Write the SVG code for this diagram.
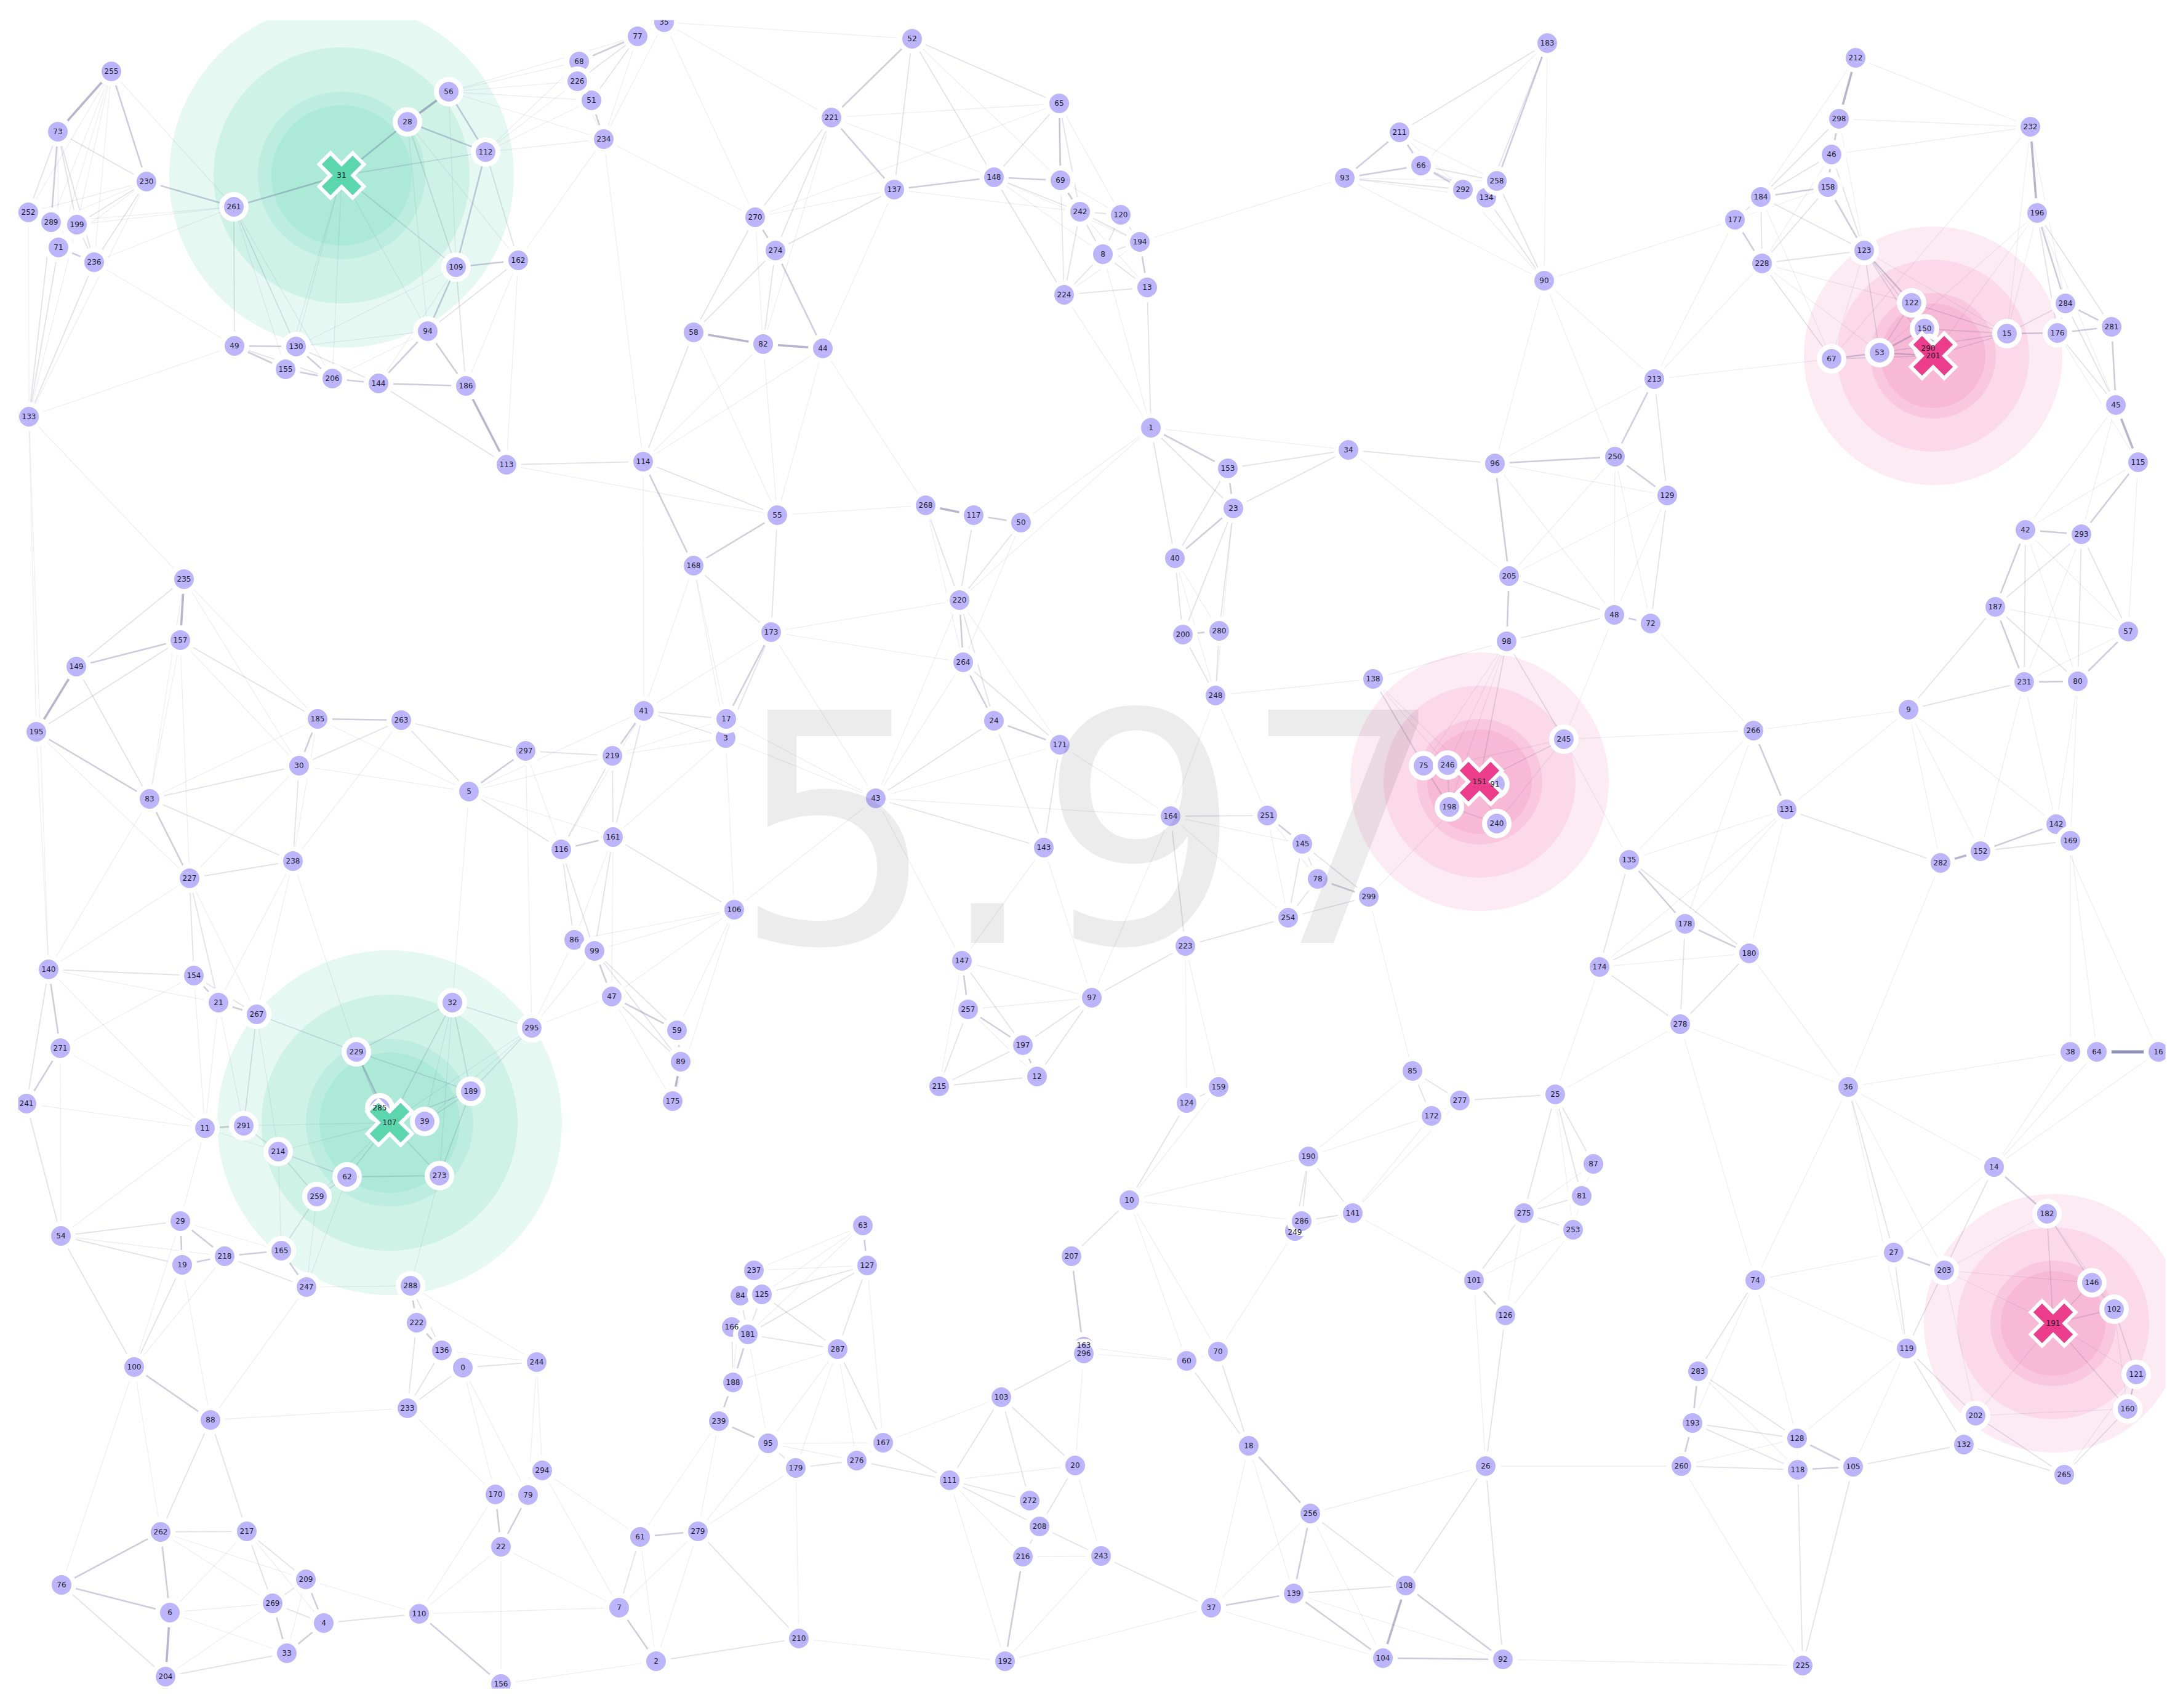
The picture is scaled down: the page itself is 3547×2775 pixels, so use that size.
<svg xmlns="http://www.w3.org/2000/svg" width="3547" height="2775" viewBox="0 0 3547 2775">
<defs>
<clipPath id="plot"><rect x="29.5" y="32.6" width="3489" height="2711"/></clipPath>
<style>
.e1{stroke:#4a4884;stroke-opacity:.09;stroke-width:1.3}
.e2{stroke:#4a4884;stroke-opacity:.16;stroke-width:1.8}
.e3{stroke:#4a4884;stroke-opacity:.27;stroke-width:2.6}
.e4{stroke:#4a4884;stroke-opacity:.4;stroke-width:3.6}
.e5{stroke:#4a4884;stroke-opacity:.62;stroke-width:4.8}
.nd circle{fill:#bdb5fb;stroke:#fff;stroke-width:8}
text{font-family:"DejaVu Sans","Liberation Sans",sans-serif}
.nd text,.cx text{font-size:12px;text-anchor:middle;fill:#1c1c28}
.xo{fill:none;stroke:#fff;stroke-width:32;stroke-linecap:square}
.gx .xi{fill:none;stroke:#5cd6ad;stroke-width:20;stroke-linecap:square}
.px .xi{fill:none;stroke:#ec3d8c;stroke-width:20;stroke-linecap:square}
.hg{fill:#5cd6ad;fill-opacity:.16}
.hp{fill:#ec3d8c;fill-opacity:.1}
.big{font-size:520px;text-anchor:middle;fill:#000;fill-opacity:.075}
</style>
<path id="xs" d="M-18-18L18 18M-18 18L18-18"/>
</defs>
<rect width="3547" height="2775" fill="#fff"/>
<g clip-path="url(#plot)">
<g id="halos">
<circle class="hg" cx="555" cy="285" r="280"/><circle class="hg" cx="555" cy="285" r="208"/><circle class="hg" cx="555" cy="285" r="136"/><circle class="hg" cx="555" cy="285" r="114"/>
<circle class="hg" cx="633" cy="1824" r="280"/><circle class="hg" cx="633" cy="1824" r="208"/><circle class="hg" cx="633" cy="1824" r="136"/><circle class="hg" cx="633" cy="1824" r="114"/>
<circle class="hp" cx="3141" cy="578" r="210"/><circle class="hp" cx="3141" cy="578" r="156"/><circle class="hp" cx="3141" cy="578" r="102"/><circle class="hp" cx="3141" cy="578" r="85"/>
<circle class="hp" cx="2404" cy="1270" r="210"/><circle class="hp" cx="2404" cy="1270" r="156"/><circle class="hp" cx="2404" cy="1270" r="102"/><circle class="hp" cx="2404" cy="1270" r="85"/>
<circle class="hp" cx="3336" cy="2150" r="210"/><circle class="hp" cx="3336" cy="2150" r="156"/><circle class="hp" cx="3336" cy="2150" r="102"/><circle class="hp" cx="3336" cy="2150" r="85"/>
</g>
<g id="edges">
<line class="e4" x1="181" y1="116" x2="94" y2="214"/>
<line class="e3" x1="181" y1="116" x2="238" y2="295"/>
<line class="e1" x1="181" y1="116" x2="46" y2="345"/>
<line class="e1" x1="181" y1="116" x2="83" y2="361"/>
<line class="e1" x1="181" y1="116" x2="125" y2="365"/>
<line class="e1" x1="181" y1="116" x2="153" y2="426"/>
<line class="e1" x1="181" y1="116" x2="95" y2="402"/>
<line class="e1" x1="181" y1="116" x2="380" y2="336"/>
<line class="e2" x1="94" y1="214" x2="238" y2="295"/>
<line class="e2" x1="94" y1="214" x2="46" y2="345"/>
<line class="e3" x1="94" y1="214" x2="83" y2="361"/>
<line class="e2" x1="94" y1="214" x2="125" y2="365"/>
<line class="e2" x1="94" y1="214" x2="153" y2="426"/>
<line class="e1" x1="94" y1="214" x2="95" y2="402"/>
<line class="e3" x1="238" y1="295" x2="380" y2="336"/>
<line class="e1" x1="238" y1="295" x2="83" y2="361"/>
<line class="e2" x1="238" y1="295" x2="125" y2="365"/>
<line class="e1" x1="238" y1="295" x2="46" y2="345"/>
<line class="e2" x1="238" y1="295" x2="153" y2="426"/>
<line class="e1" x1="238" y1="295" x2="95" y2="402"/>
<line class="e1" x1="238" y1="295" x2="47" y2="677"/>
<line class="e1" x1="153" y1="426" x2="381" y2="562"/>
<line class="e3" x1="380" y1="336" x2="555" y2="285"/>
<line class="e2" x1="380" y1="336" x2="381" y2="562"/>
<line class="e2" x1="380" y1="336" x2="481" y2="563"/>
<line class="e1" x1="380" y1="336" x2="540" y2="615"/>
<line class="e1" x1="380" y1="336" x2="125" y2="365"/>
<line class="e1" x1="380" y1="336" x2="83" y2="361"/>
<line class="e1" x1="380" y1="336" x2="153" y2="426"/>
<line class="e1" x1="380" y1="336" x2="464" y2="600"/>
<line class="e3" x1="555" y1="285" x2="662" y2="198"/>
<line class="e2" x1="555" y1="285" x2="789" y2="247"/>
<line class="e2" x1="555" y1="285" x2="741" y2="434"/>
<line class="e1" x1="555" y1="285" x2="481" y2="563"/>
<line class="e1" x1="555" y1="285" x2="540" y2="615"/>
<line class="e1" x1="555" y1="285" x2="695" y2="538"/>
<line class="e1" x1="555" y1="285" x2="464" y2="600"/>
<line class="e4" x1="662" y1="198" x2="729" y2="149"/>
<line class="e3" x1="662" y1="198" x2="789" y2="247"/>
<line class="e2" x1="662" y1="198" x2="741" y2="434"/>
<line class="e1" x1="662" y1="198" x2="695" y2="538"/>
<line class="e1" x1="662" y1="198" x2="842" y2="423"/>
<line class="e3" x1="729" y1="149" x2="789" y2="247"/>
<line class="e1" x1="729" y1="149" x2="741" y2="434"/>
<line class="e1" x1="729" y1="149" x2="941" y2="100"/>
<line class="e1" x1="729" y1="149" x2="938" y2="132"/>
<line class="e1" x1="729" y1="149" x2="961" y2="163"/>
<line class="e1" x1="729" y1="149" x2="981" y2="226"/>
<line class="e1" x1="729" y1="149" x2="1036" y2="59"/>
<line class="e2" x1="789" y1="247" x2="842" y2="423"/>
<line class="e3" x1="789" y1="247" x2="741" y2="434"/>
<line class="e1" x1="789" y1="247" x2="981" y2="226"/>
<line class="e1" x1="789" y1="247" x2="961" y2="163"/>
<line class="e1" x1="789" y1="247" x2="938" y2="132"/>
<line class="e1" x1="789" y1="247" x2="941" y2="100"/>
<line class="e3" x1="741" y1="434" x2="842" y2="423"/>
<line class="e3" x1="741" y1="434" x2="695" y2="538"/>
<line class="e2" x1="741" y1="434" x2="757" y2="627"/>
<line class="e1" x1="741" y1="434" x2="615" y2="623"/>
<line class="e1" x1="741" y1="434" x2="481" y2="563"/>
<line class="e2" x1="842" y1="423" x2="695" y2="538"/>
<line class="e1" x1="842" y1="423" x2="823" y2="755"/>
<line class="e1" x1="842" y1="423" x2="757" y2="627"/>
<line class="e1" x1="842" y1="423" x2="981" y2="226"/>
<line class="e3" x1="695" y1="538" x2="615" y2="623"/>
<line class="e3" x1="695" y1="538" x2="757" y2="627"/>
<line class="e1" x1="695" y1="538" x2="540" y2="615"/>
<line class="e1" x1="695" y1="538" x2="481" y2="563"/>
<line class="e3" x1="381" y1="562" x2="481" y2="563"/>
<line class="e3" x1="381" y1="562" x2="464" y2="600"/>
<line class="e2" x1="381" y1="562" x2="540" y2="615"/>
<line class="e1" x1="381" y1="562" x2="47" y2="677"/>
<line class="e3" x1="481" y1="563" x2="540" y2="615"/>
<line class="e2" x1="481" y1="563" x2="615" y2="623"/>
<line class="e2" x1="481" y1="563" x2="464" y2="600"/>
<line class="e3" x1="464" y1="600" x2="540" y2="615"/>
<line class="e3" x1="540" y1="615" x2="615" y2="623"/>
<line class="e3" x1="615" y1="623" x2="757" y2="627"/>
<line class="e2" x1="615" y1="623" x2="823" y2="755"/>
<line class="e4" x1="757" y1="627" x2="823" y2="755"/>
<line class="e2" x1="823" y1="755" x2="1045" y2="750"/>
<line class="e1" x1="823" y1="755" x2="1263" y2="837"/>
<line class="e1" x1="47" y1="677" x2="46" y2="345"/>
<line class="e2" x1="47" y1="677" x2="83" y2="361"/>
<line class="e1" x1="47" y1="677" x2="125" y2="365"/>
<line class="e2" x1="47" y1="677" x2="95" y2="402"/>
<line class="e2" x1="47" y1="677" x2="153" y2="426"/>
<line class="e1" x1="47" y1="677" x2="299" y2="941"/>
<line class="e1" x1="47" y1="677" x2="79" y2="1575"/>
<line class="e1" x1="47" y1="677" x2="59" y2="1189"/>
<line class="e3" x1="95" y1="402" x2="153" y2="426"/>
<line class="e2" x1="125" y1="365" x2="153" y2="426"/>
<line class="e2" x1="83" y1="361" x2="125" y2="365"/>
<line class="e1" x1="83" y1="361" x2="95" y2="402"/>
<line class="e1" x1="46" y1="345" x2="83" y2="361"/>
<line class="e1" x1="95" y1="402" x2="125" y2="365"/>
<line class="e1" x1="1079" y1="36" x2="1036" y2="59"/>
<line class="e1" x1="1079" y1="36" x2="981" y2="226"/>
<line class="e1" x1="1079" y1="36" x2="1482" y2="63"/>
<line class="e1" x1="1079" y1="36" x2="1351" y2="191"/>
<line class="e1" x1="1079" y1="36" x2="1227" y2="353"/>
<line class="e3" x1="1036" y1="59" x2="941" y2="100"/>
<line class="e2" x1="1036" y1="59" x2="938" y2="132"/>
<line class="e2" x1="1036" y1="59" x2="961" y2="163"/>
<line class="e1" x1="1036" y1="59" x2="981" y2="226"/>
<line class="e2" x1="941" y1="100" x2="938" y2="132"/>
<line class="e1" x1="941" y1="100" x2="961" y2="163"/>
<line class="e2" x1="938" y1="132" x2="961" y2="163"/>
<line class="e1" x1="938" y1="132" x2="981" y2="226"/>
<line class="e3" x1="961" y1="163" x2="981" y2="226"/>
<line class="e1" x1="981" y1="226" x2="1227" y2="353"/>
<line class="e1" x1="981" y1="226" x2="1045" y2="750"/>
<line class="e3" x1="1482" y1="63" x2="1351" y2="191"/>
<line class="e2" x1="1482" y1="63" x2="1453" y2="308"/>
<line class="e2" x1="1482" y1="63" x2="1615" y2="288"/>
<line class="e2" x1="1482" y1="63" x2="1721" y2="168"/>
<line class="e1" x1="1482" y1="63" x2="1723" y2="293"/>
<line class="e3" x1="1351" y1="191" x2="1453" y2="308"/>
<line class="e2" x1="1351" y1="191" x2="1227" y2="353"/>
<line class="e2" x1="1351" y1="191" x2="1260" y2="407"/>
<line class="e1" x1="1351" y1="191" x2="1615" y2="288"/>
<line class="e1" x1="1351" y1="191" x2="1240" y2="559"/>
<line class="e1" x1="1351" y1="191" x2="1721" y2="168"/>
<line class="e2" x1="1721" y1="168" x2="1615" y2="288"/>
<line class="e3" x1="1721" y1="168" x2="1723" y2="293"/>
<line class="e2" x1="1721" y1="168" x2="1755" y2="344"/>
<line class="e1" x1="1721" y1="168" x2="1729" y2="479"/>
<line class="e1" x1="1721" y1="168" x2="1821" y2="349"/>
<line class="e1" x1="1721" y1="168" x2="1227" y2="353"/>
<line class="e3" x1="1615" y1="288" x2="1453" y2="308"/>
<line class="e3" x1="1615" y1="288" x2="1723" y2="293"/>
<line class="e2" x1="1615" y1="288" x2="1755" y2="344"/>
<line class="e2" x1="1615" y1="288" x2="1729" y2="479"/>
<line class="e1" x1="1615" y1="288" x2="1792" y2="413"/>
<line class="e1" x1="1615" y1="288" x2="1852" y2="393"/>
<line class="e1" x1="1453" y1="308" x2="1227" y2="353"/>
<line class="e2" x1="1453" y1="308" x2="1260" y2="407"/>
<line class="e1" x1="1453" y1="308" x2="1337" y2="566"/>
<line class="e1" x1="1453" y1="308" x2="1755" y2="344"/>
<line class="e3" x1="1227" y1="353" x2="1260" y2="407"/>
<line class="e2" x1="1227" y1="353" x2="1127" y2="540"/>
<line class="e1" x1="1227" y1="353" x2="1240" y2="559"/>
<line class="e2" x1="1260" y1="407" x2="1127" y2="540"/>
<line class="e2" x1="1260" y1="407" x2="1240" y2="559"/>
<line class="e3" x1="1260" y1="407" x2="1337" y2="566"/>
<line class="e4" x1="1127" y1="540" x2="1240" y2="559"/>
<line class="e4" x1="1240" y1="559" x2="1337" y2="566"/>
<line class="e2" x1="1127" y1="540" x2="1045" y2="750"/>
<line class="e1" x1="1240" y1="559" x2="1045" y2="750"/>
<line class="e1" x1="1240" y1="559" x2="1263" y2="837"/>
<line class="e1" x1="1337" y1="566" x2="1263" y2="837"/>
<line class="e1" x1="1337" y1="566" x2="1045" y2="750"/>
<line class="e1" x1="1337" y1="566" x2="1504" y2="821"/>
<line class="e1" x1="1127" y1="540" x2="1263" y2="837"/>
<line class="e2" x1="1045" y1="750" x2="1263" y2="837"/>
<line class="e3" x1="1045" y1="750" x2="1127" y2="919"/>
<line class="e1" x1="1045" y1="750" x2="1046" y2="1155"/>
<line class="e3" x1="1263" y1="837" x2="1127" y2="919"/>
<line class="e1" x1="1263" y1="837" x2="1504" y2="821"/>
<line class="e2" x1="1263" y1="837" x2="1253" y2="1027"/>
<line class="e4" x1="1504" y1="821" x2="1582" y2="837"/>
<line class="e3" x1="1582" y1="837" x2="1659" y2="849"/>
<line class="e2" x1="1504" y1="821" x2="1559" y2="975"/>
<line class="e2" x1="1582" y1="837" x2="1559" y2="975"/>
<line class="e2" x1="1659" y1="849" x2="1559" y2="975"/>
<line class="e1" x1="1659" y1="849" x2="1870" y2="695"/>
<line class="e1" x1="1659" y1="849" x2="1565" y2="1076"/>
<line class="e3" x1="1723" y1="293" x2="1755" y2="344"/>
<line class="e2" x1="1755" y1="344" x2="1821" y2="349"/>
<line class="e2" x1="1755" y1="344" x2="1792" y2="413"/>
<line class="e2" x1="1755" y1="344" x2="1852" y2="393"/>
<line class="e1" x1="1755" y1="344" x2="1864" y2="467"/>
<line class="e2" x1="1821" y1="349" x2="1852" y2="393"/>
<line class="e2" x1="1821" y1="349" x2="1792" y2="413"/>
<line class="e2" x1="1792" y1="413" x2="1852" y2="393"/>
<line class="e2" x1="1792" y1="413" x2="1864" y2="467"/>
<line class="e3" x1="1852" y1="393" x2="1864" y2="467"/>
<line class="e2" x1="1729" y1="479" x2="1864" y2="467"/>
<line class="e2" x1="1729" y1="479" x2="1792" y2="413"/>
<line class="e1" x1="1729" y1="479" x2="1852" y2="393"/>
<line class="e2" x1="1729" y1="479" x2="1755" y2="344"/>
<line class="e1" x1="1723" y1="293" x2="1792" y2="413"/>
<line class="e1" x1="1723" y1="293" x2="1821" y2="349"/>
<line class="e1" x1="1723" y1="293" x2="1729" y2="479"/>
<line class="e2" x1="1864" y1="467" x2="1870" y2="695"/>
<line class="e1" x1="1792" y1="413" x2="1870" y2="695"/>
<line class="e1" x1="1729" y1="479" x2="1870" y2="695"/>
<line class="e3" x1="2185" y1="289" x2="2274" y2="215"/>
<line class="e3" x1="2185" y1="289" x2="2309" y2="269"/>
<line class="e2" x1="2185" y1="289" x2="2377" y2="308"/>
<line class="e1" x1="2185" y1="289" x2="2415" y2="321"/>
<line class="e1" x1="2185" y1="289" x2="2432" y2="294"/>
<line class="e3" x1="2274" y1="215" x2="2309" y2="269"/>
<line class="e1" x1="2274" y1="215" x2="2377" y2="308"/>
<line class="e1" x1="2274" y1="215" x2="2432" y2="294"/>
<line class="e2" x1="2274" y1="215" x2="2514" y2="70"/>
<line class="e3" x1="2309" y1="269" x2="2377" y2="308"/>
<line class="e2" x1="2309" y1="269" x2="2432" y2="294"/>
<line class="e2" x1="2309" y1="269" x2="2415" y2="321"/>
<line class="e1" x1="2377" y1="308" x2="2432" y2="294"/>
<line class="e2" x1="2377" y1="308" x2="2415" y2="321"/>
<line class="e3" x1="2514" y1="70" x2="2432" y2="294"/>
<line class="e2" x1="2514" y1="70" x2="2415" y2="321"/>
<line class="e1" x1="2514" y1="70" x2="2309" y2="269"/>
<line class="e1" x1="2514" y1="70" x2="2509" y2="456"/>
<line class="e2" x1="2432" y1="294" x2="2509" y2="456"/>
<line class="e2" x1="2415" y1="321" x2="2509" y2="456"/>
<line class="e1" x1="2377" y1="308" x2="2509" y2="456"/>
<line class="e1" x1="2185" y1="289" x2="2509" y2="456"/>
<line class="e1" x1="2185" y1="289" x2="1852" y2="393"/>
<line class="e1" x1="2509" y1="456" x2="2688" y2="616"/>
<line class="e1" x1="2509" y1="456" x2="2429" y2="753"/>
<line class="e1" x1="2509" y1="456" x2="2624" y2="742"/>
<line class="e3" x1="1870" y1="695" x2="1995" y2="761"/>
<line class="e2" x1="1870" y1="695" x2="2004" y2="826"/>
<line class="e2" x1="1870" y1="695" x2="1909" y2="907"/>
<line class="e1" x1="1870" y1="695" x2="2191" y2="731"/>
<line class="e1" x1="1870" y1="695" x2="1559" y2="975"/>
<line class="e2" x1="1995" y1="761" x2="2191" y2="731"/>
<line class="e3" x1="1995" y1="761" x2="2004" y2="826"/>
<line class="e2" x1="1995" y1="761" x2="1909" y2="907"/>
<line class="e2" x1="2004" y1="826" x2="2191" y2="731"/>
<line class="e3" x1="2004" y1="826" x2="1909" y2="907"/>
<line class="e2" x1="2004" y1="826" x2="1922" y2="1031"/>
<line class="e2" x1="2004" y1="826" x2="1981" y2="1025"/>
<line class="e1" x1="2004" y1="826" x2="1975" y2="1130"/>
<line class="e2" x1="2191" y1="731" x2="2429" y2="753"/>
<line class="e1" x1="2191" y1="731" x2="2452" y2="936"/>
<line class="e3" x1="2429" y1="753" x2="2624" y2="742"/>
<line class="e3" x1="2429" y1="753" x2="2452" y2="936"/>
<line class="e1" x1="2429" y1="753" x2="2623" y2="999"/>
<line class="e1" x1="2429" y1="753" x2="2688" y2="616"/>
<line class="e1" x1="2429" y1="753" x2="2709" y2="805"/>
<line class="e3" x1="2624" y1="742" x2="2688" y2="616"/>
<line class="e3" x1="2624" y1="742" x2="2709" y2="805"/>
<line class="e1" x1="2624" y1="742" x2="2623" y2="999"/>
<line class="e1" x1="2624" y1="742" x2="2682" y2="1013"/>
<line class="e1" x1="2624" y1="742" x2="2452" y2="936"/>
<line class="e4" x1="3015" y1="94" x2="2988" y2="193"/>
<line class="e1" x1="3015" y1="94" x2="3299" y2="206"/>
<line class="e1" x1="3015" y1="94" x2="2861" y2="320"/>
<line class="e3" x1="2988" y1="193" x2="2976" y2="251"/>
<line class="e1" x1="2988" y1="193" x2="3299" y2="206"/>
<line class="e2" x1="2988" y1="193" x2="2861" y2="320"/>
<line class="e1" x1="2988" y1="193" x2="3029" y2="407"/>
<line class="e1" x1="2988" y1="193" x2="2970" y2="304"/>
<line class="e3" x1="2976" y1="251" x2="2970" y2="304"/>
<line class="e2" x1="2976" y1="251" x2="2861" y2="320"/>
<line class="e2" x1="2976" y1="251" x2="3029" y2="407"/>
<line class="e1" x1="2976" y1="251" x2="2863" y2="428"/>
<line class="e1" x1="2976" y1="251" x2="3299" y2="206"/>
<line class="e3" x1="2970" y1="304" x2="2861" y2="320"/>
<line class="e3" x1="2970" y1="304" x2="3029" y2="407"/>
<line class="e2" x1="2970" y1="304" x2="2863" y2="428"/>
<line class="e1" x1="2970" y1="304" x2="2819" y2="357"/>
<line class="e2" x1="2861" y1="320" x2="2819" y2="357"/>
<line class="e2" x1="2861" y1="320" x2="2863" y2="428"/>
<line class="e2" x1="2861" y1="320" x2="3029" y2="407"/>
<line class="e1" x1="2861" y1="320" x2="2976" y2="583"/>
<line class="e3" x1="2819" y1="357" x2="2863" y2="428"/>
<line class="e1" x1="2819" y1="357" x2="2688" y2="616"/>
<line class="e1" x1="2819" y1="357" x2="2509" y2="456"/>
<line class="e2" x1="2863" y1="428" x2="3029" y2="407"/>
<line class="e2" x1="2863" y1="428" x2="2976" y2="583"/>
<line class="e1" x1="2863" y1="428" x2="2688" y2="616"/>
<line class="e1" x1="2863" y1="428" x2="3054" y2="573"/>
<line class="e1" x1="2863" y1="428" x2="3106" y2="492"/>
<line class="e3" x1="3029" y1="407" x2="3106" y2="492"/>
<line class="e2" x1="3029" y1="407" x2="3054" y2="573"/>
<line class="e1" x1="3029" y1="407" x2="2976" y2="583"/>
<line class="e2" x1="3029" y1="407" x2="3127" y2="534"/>
<line class="e2" x1="3029" y1="407" x2="3141" y2="578"/>
<line class="e1" x1="3029" y1="407" x2="3261" y2="542"/>
<line class="e4" x1="3299" y1="206" x2="3310" y2="346"/>
<line class="e1" x1="3299" y1="206" x2="3261" y2="542"/>
<line class="e1" x1="3299" y1="206" x2="3356" y2="493"/>
<line class="e1" x1="3299" y1="206" x2="2976" y2="583"/>
<line class="e3" x1="3310" y1="346" x2="3356" y2="493"/>
<line class="e2" x1="3310" y1="346" x2="3343" y2="541"/>
<line class="e1" x1="3310" y1="346" x2="3261" y2="542"/>
<line class="e2" x1="3310" y1="346" x2="3431" y2="531"/>
<line class="e1" x1="3310" y1="346" x2="3438" y2="658"/>
<line class="e1" x1="3310" y1="346" x2="3141" y2="578"/>
<line class="e1" x1="3310" y1="346" x2="3054" y2="573"/>
<line class="e3" x1="3356" y1="493" x2="3431" y2="531"/>
<line class="e2" x1="3356" y1="493" x2="3261" y2="542"/>
<line class="e2" x1="3356" y1="493" x2="3343" y2="541"/>
<line class="e2" x1="3356" y1="493" x2="3438" y2="658"/>
<line class="e3" x1="3431" y1="531" x2="3343" y2="541"/>
<line class="e3" x1="3431" y1="531" x2="3438" y2="658"/>
<line class="e3" x1="3343" y1="541" x2="3261" y2="542"/>
<line class="e2" x1="3343" y1="541" x2="3438" y2="658"/>
<line class="e1" x1="3343" y1="541" x2="3474" y2="751"/>
<line class="e2" x1="3261" y1="542" x2="3141" y2="578"/>
<line class="e2" x1="3261" y1="542" x2="3127" y2="534"/>
<line class="e2" x1="3261" y1="542" x2="3106" y2="492"/>
<line class="e2" x1="3261" y1="542" x2="3054" y2="573"/>
<line class="e3" x1="3106" y1="492" x2="3127" y2="534"/>
<line class="e2" x1="3106" y1="492" x2="3054" y2="573"/>
<line class="e2" x1="3106" y1="492" x2="3141" y2="578"/>
<line class="e3" x1="3127" y1="534" x2="3054" y2="573"/>
<line class="e3" x1="3127" y1="534" x2="3141" y2="578"/>
<line class="e3" x1="3054" y1="573" x2="2976" y2="583"/>
<line class="e3" x1="3054" y1="573" x2="3141" y2="578"/>
<line class="e2" x1="2976" y1="583" x2="3141" y2="578"/>
<line class="e1" x1="2976" y1="583" x2="2688" y2="616"/>
<line class="e2" x1="2688" y1="616" x2="2709" y2="805"/>
<line class="e4" x1="3438" y1="658" x2="3474" y2="751"/>
<line class="e1" x1="3438" y1="658" x2="3291" y2="861"/>
<line class="e1" x1="3438" y1="658" x2="3382" y2="868"/>
<line class="e3" x1="3474" y1="751" x2="3382" y2="868"/>
<line class="e1" x1="3474" y1="751" x2="3291" y2="861"/>
<line class="e1" x1="3474" y1="751" x2="3458" y2="1026"/>
<line class="e3" x1="3291" y1="861" x2="3382" y2="868"/>
<line class="e3" x1="3291" y1="861" x2="3242" y2="986"/>
<line class="e2" x1="3291" y1="861" x2="3289" y2="1108"/>
<line class="e1" x1="3291" y1="861" x2="3458" y2="1026"/>
<line class="e1" x1="3291" y1="861" x2="3376" y2="1107"/>
<line class="e2" x1="3382" y1="868" x2="3242" y2="986"/>
<line class="e2" x1="3382" y1="868" x2="3376" y2="1107"/>
<line class="e2" x1="3382" y1="868" x2="3458" y2="1026"/>
<line class="e1" x1="3382" y1="868" x2="3289" y2="1108"/>
<line class="e4" x1="299" y1="941" x2="293" y2="1040"/>
<line class="e2" x1="299" y1="941" x2="124" y2="1083"/>
<line class="e1" x1="299" y1="941" x2="516" y2="1168"/>
<line class="e1" x1="299" y1="941" x2="243" y2="1298"/>
<line class="e1" x1="299" y1="941" x2="486" y2="1244"/>
<line class="e3" x1="293" y1="1040" x2="124" y2="1083"/>
<line class="e2" x1="293" y1="1040" x2="59" y2="1189"/>
<line class="e1" x1="293" y1="1040" x2="243" y2="1298"/>
<line class="e2" x1="293" y1="1040" x2="516" y2="1168"/>
<line class="e1" x1="293" y1="1040" x2="486" y2="1244"/>
<line class="e1" x1="293" y1="1040" x2="308" y2="1427"/>
<line class="e4" x1="124" y1="1083" x2="59" y2="1189"/>
<line class="e2" x1="124" y1="1083" x2="243" y2="1298"/>
<line class="e3" x1="59" y1="1189" x2="243" y2="1298"/>
<line class="e1" x1="59" y1="1189" x2="308" y2="1427"/>
<line class="e1" x1="59" y1="1189" x2="79" y2="1575"/>
<line class="e3" x1="516" y1="1168" x2="652" y2="1170"/>
<line class="e3" x1="516" y1="1168" x2="486" y2="1244"/>
<line class="e1" x1="516" y1="1168" x2="243" y2="1298"/>
<line class="e1" x1="516" y1="1168" x2="762" y2="1286"/>
<line class="e1" x1="516" y1="1168" x2="476" y2="1399"/>
<line class="e2" x1="652" y1="1170" x2="486" y2="1244"/>
<line class="e2" x1="652" y1="1170" x2="854" y2="1220"/>
<line class="e2" x1="652" y1="1170" x2="762" y2="1286"/>
<line class="e1" x1="652" y1="1170" x2="476" y2="1399"/>
<line class="e2" x1="486" y1="1244" x2="243" y2="1298"/>
<line class="e2" x1="486" y1="1244" x2="476" y2="1399"/>
<line class="e1" x1="486" y1="1244" x2="762" y2="1286"/>
<line class="e1" x1="486" y1="1244" x2="308" y2="1427"/>
<line class="e3" x1="243" y1="1298" x2="308" y2="1427"/>
<line class="e2" x1="243" y1="1298" x2="476" y2="1399"/>
<line class="e1" x1="243" y1="1298" x2="79" y2="1575"/>
<line class="e2" x1="308" y1="1427" x2="476" y2="1399"/>
<line class="e2" x1="308" y1="1427" x2="315" y2="1585"/>
<line class="e2" x1="308" y1="1427" x2="355" y2="1629"/>
<line class="e1" x1="308" y1="1427" x2="417" y2="1648"/>
<line class="e1" x1="308" y1="1427" x2="79" y2="1575"/>
<line class="e1" x1="476" y1="1399" x2="355" y2="1629"/>
<line class="e1" x1="476" y1="1399" x2="417" y2="1648"/>
<line class="e1" x1="476" y1="1399" x2="579" y2="1709"/>
<line class="e3" x1="854" y1="1220" x2="762" y2="1286"/>
<line class="e2" x1="854" y1="1220" x2="995" y2="1228"/>
<line class="e1" x1="854" y1="1220" x2="912" y2="1380"/>
<line class="e2" x1="762" y1="1286" x2="912" y2="1380"/>
<line class="e1" x1="762" y1="1286" x2="996" y2="1360"/>
<line class="e1" x1="762" y1="1286" x2="995" y2="1228"/>
<line class="e1" x1="762" y1="1286" x2="735" y2="1629"/>
<line class="e2" x1="79" y1="1575" x2="315" y2="1585"/>
<line class="e3" x1="79" y1="1575" x2="98" y2="1703"/>
<line class="e2" x1="79" y1="1575" x2="43" y2="1793"/>
<line class="e1" x1="79" y1="1575" x2="355" y2="1629"/>
<line class="e1" x1="79" y1="1575" x2="333" y2="1833"/>
<line class="e3" x1="315" y1="1585" x2="355" y2="1629"/>
<line class="e2" x1="315" y1="1585" x2="417" y2="1648"/>
<line class="e1" x1="315" y1="1585" x2="333" y2="1833"/>
<line class="e1" x1="315" y1="1585" x2="98" y2="1703"/>
<line class="e3" x1="355" y1="1629" x2="417" y2="1648"/>
<line class="e1" x1="355" y1="1629" x2="333" y2="1833"/>
<line class="e1" x1="355" y1="1629" x2="396" y2="1829"/>
<line class="e3" x1="98" y1="1703" x2="43" y2="1793"/>
<line class="e1" x1="98" y1="1703" x2="333" y2="1833"/>
<line class="e1" x1="98" y1="1703" x2="99" y2="2008"/>
<line class="e2" x1="417" y1="1648" x2="579" y2="1709"/>
<line class="e2" x1="417" y1="1648" x2="396" y2="1829"/>
<line class="e1" x1="417" y1="1648" x2="452" y2="1871"/>
<line class="e2" x1="735" y1="1629" x2="579" y2="1709"/>
<line class="e2" x1="735" y1="1629" x2="864" y2="1670"/>
<line class="e2" x1="735" y1="1629" x2="765" y2="1773"/>
<line class="e2" x1="735" y1="1629" x2="633" y2="1824"/>
<line class="e1" x1="735" y1="1629" x2="690" y2="1822"/>
<line class="e1" x1="735" y1="1629" x2="714" y2="1910"/>
<line class="e3" x1="579" y1="1709" x2="633" y2="1824"/>
<line class="e2" x1="579" y1="1709" x2="765" y2="1773"/>
<line class="e2" x1="579" y1="1709" x2="617" y2="1800"/>
<line class="e2" x1="765" y1="1773" x2="633" y2="1824"/>
<line class="e2" x1="765" y1="1773" x2="690" y2="1822"/>
<line class="e2" x1="765" y1="1773" x2="864" y2="1670"/>
<line class="e2" x1="765" y1="1773" x2="714" y2="1910"/>
<line class="e1" x1="864" y1="1670" x2="633" y2="1824"/>
<line class="e1" x1="864" y1="1670" x2="690" y2="1822"/>
<line class="e1" x1="864" y1="1670" x2="994" y2="1619"/>
<line class="e1" x1="864" y1="1670" x2="933" y2="1527"/>
<line class="e1" x1="864" y1="1670" x2="966" y2="1545"/>
<line class="e3" x1="333" y1="1833" x2="396" y2="1829"/>
<line class="e1" x1="333" y1="1833" x2="452" y2="1871"/>
<line class="e1" x1="333" y1="1833" x2="99" y2="2008"/>
<line class="e1" x1="333" y1="1833" x2="293" y2="1984"/>
<line class="e2" x1="396" y1="1829" x2="452" y2="1871"/>
<line class="e1" x1="396" y1="1829" x2="633" y2="1824"/>
<line class="e2" x1="43" y1="1793" x2="99" y2="2008"/>
<line class="e1" x1="43" y1="1793" x2="333" y2="1833"/>
<line class="e1" x1="854" y1="1220" x2="864" y2="1670"/>
<line class="e2" x1="1127" y1="919" x2="1253" y2="1027"/>
<line class="e1" x1="1127" y1="919" x2="1180" y2="1168"/>
<line class="e1" x1="1127" y1="919" x2="1179" y2="1199"/>
<line class="e1" x1="1127" y1="919" x2="1046" y2="1155"/>
<line class="e3" x1="1253" y1="1027" x2="1180" y2="1168"/>
<line class="e2" x1="1253" y1="1027" x2="1179" y2="1199"/>
<line class="e1" x1="1253" y1="1027" x2="1559" y2="975"/>
<line class="e1" x1="1253" y1="1027" x2="1046" y2="1155"/>
<line class="e1" x1="1253" y1="1027" x2="1423" y2="1297"/>
<line class="e1" x1="1253" y1="1027" x2="1565" y2="1076"/>
<line class="e3" x1="1559" y1="975" x2="1565" y2="1076"/>
<line class="e2" x1="1559" y1="975" x2="1615" y2="1171"/>
<line class="e1" x1="1559" y1="975" x2="1722" y2="1210"/>
<line class="e1" x1="1559" y1="975" x2="1423" y2="1297"/>
<line class="e1" x1="1504" y1="821" x2="1565" y2="1076"/>
<line class="e3" x1="1565" y1="1076" x2="1615" y2="1171"/>
<line class="e2" x1="1565" y1="1076" x2="1722" y2="1210"/>
<line class="e1" x1="1565" y1="1076" x2="1423" y2="1297"/>
<line class="e3" x1="1615" y1="1171" x2="1722" y2="1210"/>
<line class="e2" x1="1615" y1="1171" x2="1696" y2="1377"/>
<line class="e2" x1="1615" y1="1171" x2="1423" y2="1297"/>
<line class="e2" x1="1722" y1="1210" x2="1696" y2="1377"/>
<line class="e1" x1="1722" y1="1210" x2="1902" y2="1326"/>
<line class="e1" x1="1722" y1="1210" x2="1423" y2="1297"/>
<line class="e2" x1="1046" y1="1155" x2="1180" y2="1168"/>
<line class="e2" x1="1046" y1="1155" x2="1179" y2="1199"/>
<line class="e3" x1="1046" y1="1155" x2="995" y2="1228"/>
<line class="e2" x1="1046" y1="1155" x2="996" y2="1360"/>
<line class="e1" x1="1046" y1="1155" x2="912" y2="1380"/>
<line class="e1" x1="1046" y1="1155" x2="762" y2="1286"/>
<line class="e2" x1="995" y1="1228" x2="912" y2="1380"/>
<line class="e2" x1="995" y1="1228" x2="996" y2="1360"/>
<line class="e1" x1="995" y1="1228" x2="1179" y2="1199"/>
<line class="e1" x1="995" y1="1228" x2="1180" y2="1168"/>
<line class="e1" x1="1179" y1="1199" x2="1423" y2="1297"/>
<line class="e1" x1="1179" y1="1199" x2="1193" y2="1478"/>
<line class="e1" x1="1180" y1="1168" x2="1423" y2="1297"/>
<line class="e1" x1="1179" y1="1199" x2="996" y2="1360"/>
<line class="e3" x1="912" y1="1380" x2="996" y2="1360"/>
<line class="e2" x1="912" y1="1380" x2="933" y2="1527"/>
<line class="e2" x1="912" y1="1380" x2="966" y2="1545"/>
<line class="e2" x1="996" y1="1360" x2="1193" y2="1478"/>
<line class="e1" x1="996" y1="1360" x2="933" y2="1527"/>
<line class="e2" x1="996" y1="1360" x2="966" y2="1545"/>
<line class="e1" x1="996" y1="1360" x2="994" y2="1619"/>
<line class="e1" x1="1193" y1="1478" x2="1100" y2="1674"/>
<line class="e1" x1="1193" y1="1478" x2="1093" y2="1789"/>
<line class="e1" x1="1193" y1="1478" x2="1423" y2="1297"/>
<line class="e1" x1="1193" y1="1478" x2="933" y2="1527"/>
<line class="e1" x1="1193" y1="1478" x2="966" y2="1545"/>
<line class="e1" x1="1193" y1="1478" x2="994" y2="1619"/>
<line class="e2" x1="933" y1="1527" x2="966" y2="1545"/>
<line class="e3" x1="966" y1="1545" x2="994" y2="1619"/>
<line class="e2" x1="966" y1="1545" x2="1100" y2="1674"/>
<line class="e2" x1="966" y1="1545" x2="1106" y2="1725"/>
<line class="e3" x1="994" y1="1619" x2="1100" y2="1674"/>
<line class="e2" x1="994" y1="1619" x2="1106" y2="1725"/>
<line class="e1" x1="994" y1="1619" x2="1093" y2="1789"/>
<line class="e3" x1="1100" y1="1674" x2="1106" y2="1725"/>
<line class="e4" x1="1106" y1="1725" x2="1093" y2="1789"/>
<line class="e1" x1="1423" y1="1297" x2="1563" y2="1561"/>
<line class="e2" x1="1423" y1="1297" x2="1696" y2="1377"/>
<line class="e1" x1="1696" y1="1377" x2="1563" y2="1561"/>
<line class="e1" x1="1696" y1="1377" x2="1774" y2="1621"/>
<line class="e3" x1="1563" y1="1561" x2="1573" y2="1640"/>
<line class="e2" x1="1563" y1="1561" x2="1662" y2="1698"/>
<line class="e1" x1="1563" y1="1561" x2="1774" y2="1621"/>
<line class="e1" x1="1563" y1="1561" x2="1526" y2="1765"/>
<line class="e3" x1="1573" y1="1640" x2="1662" y2="1698"/>
<line class="e2" x1="1573" y1="1640" x2="1526" y2="1765"/>
<line class="e1" x1="1573" y1="1640" x2="1774" y2="1621"/>
<line class="e1" x1="1573" y1="1640" x2="1685" y2="1749"/>
<line class="e3" x1="1662" y1="1698" x2="1685" y2="1749"/>
<line class="e2" x1="1662" y1="1698" x2="1526" y2="1765"/>
<line class="e2" x1="1662" y1="1698" x2="1774" y2="1621"/>
<line class="e2" x1="1685" y1="1749" x2="1526" y2="1765"/>
<line class="e2" x1="1685" y1="1749" x2="1774" y2="1621"/>
<line class="e2" x1="1774" y1="1621" x2="1926" y2="1537"/>
<line class="e3" x1="1922" y1="1031" x2="1981" y2="1025"/>
<line class="e2" x1="1922" y1="1031" x2="1975" y2="1130"/>
<line class="e2" x1="1981" y1="1025" x2="1975" y2="1130"/>
<line class="e2" x1="1909" y1="907" x2="1922" y2="1031"/>
<line class="e1" x1="1909" y1="907" x2="1981" y2="1025"/>
<line class="e1" x1="1909" y1="907" x2="1975" y2="1130"/>
<line class="e1" x1="1975" y1="1130" x2="2231" y2="1103"/>
<line class="e1" x1="1975" y1="1130" x2="1902" y2="1326"/>
<line class="e1" x1="1975" y1="1130" x2="2059" y2="1325"/>
<line class="e1" x1="2231" y1="1103" x2="2448" y2="1042"/>
<line class="e2" x1="2231" y1="1103" x2="2313" y2="1244"/>
<line class="e1" x1="2231" y1="1103" x2="2352" y2="1243"/>
<line class="e1" x1="2231" y1="1103" x2="2404" y2="1270"/>
<line class="e1" x1="2231" y1="1103" x2="2355" y2="1311"/>
<line class="e3" x1="2452" y1="936" x2="2448" y2="1042"/>
<line class="e2" x1="2452" y1="936" x2="2623" y2="999"/>
<line class="e2" x1="2448" y1="1042" x2="2623" y2="999"/>
<line class="e3" x1="2623" y1="999" x2="2682" y2="1013"/>
<line class="e2" x1="2448" y1="1042" x2="2541" y2="1201"/>
<line class="e2" x1="2448" y1="1042" x2="2404" y2="1270"/>
<line class="e1" x1="2448" y1="1042" x2="2313" y2="1244"/>
<line class="e1" x1="2448" y1="1042" x2="2352" y2="1243"/>
<line class="e1" x1="2448" y1="1042" x2="2355" y2="1311"/>
<line class="e2" x1="2541" y1="1201" x2="2404" y2="1270"/>
<line class="e1" x1="2541" y1="1201" x2="2352" y2="1243"/>
<line class="e1" x1="2541" y1="1201" x2="2432" y2="1338"/>
<line class="e1" x1="2541" y1="1201" x2="2647" y2="1397"/>
<line class="e1" x1="2541" y1="1201" x2="2623" y2="999"/>
<line class="e2" x1="2313" y1="1244" x2="2352" y2="1243"/>
<line class="e2" x1="2313" y1="1244" x2="2355" y2="1311"/>
<line class="e2" x1="2352" y1="1243" x2="2355" y2="1311"/>
<line class="e2" x1="2355" y1="1311" x2="2432" y2="1338"/>
<line class="e2" x1="2352" y1="1243" x2="2404" y2="1270"/>
<line class="e2" x1="2432" y1="1338" x2="2404" y2="1270"/>
<line class="e2" x1="2355" y1="1311" x2="2404" y2="1270"/>
<line class="e1" x1="2313" y1="1244" x2="2404" y2="1270"/>
<line class="e2" x1="1902" y1="1326" x2="2059" y2="1325"/>
<line class="e2" x1="1902" y1="1326" x2="1926" y2="1537"/>
<line class="e1" x1="1902" y1="1326" x2="2116" y2="1371"/>
<line class="e1" x1="1902" y1="1326" x2="2093" y2="1491"/>
<line class="e1" x1="1902" y1="1326" x2="1774" y2="1621"/>
<line class="e1" x1="1902" y1="1326" x2="1423" y2="1297"/>
<line class="e3" x1="2059" y1="1325" x2="2116" y2="1371"/>
<line class="e1" x1="2059" y1="1325" x2="2093" y2="1491"/>
<line class="e1" x1="2059" y1="1325" x2="2141" y2="1428"/>
<line class="e2" x1="2116" y1="1371" x2="2141" y2="1428"/>
<line class="e2" x1="2116" y1="1371" x2="2093" y2="1491"/>
<line class="e2" x1="2116" y1="1371" x2="2224" y2="1457"/>
<line class="e2" x1="2141" y1="1428" x2="2093" y2="1491"/>
<line class="e3" x1="2141" y1="1428" x2="2224" y2="1457"/>
<line class="e2" x1="2093" y1="1491" x2="2224" y2="1457"/>
<line class="e2" x1="2093" y1="1491" x2="1926" y2="1537"/>
<line class="e1" x1="1926" y1="1537" x2="1928" y2="1792"/>
<line class="e1" x1="1926" y1="1537" x2="1980" y2="1766"/>
<line class="e1" x1="2224" y1="1457" x2="2295" y2="1740"/>
<line class="e1" x1="2224" y1="1457" x2="2404" y2="1270"/>
<line class="e2" x1="2647" y1="1397" x2="2599" y2="1571"/>
<line class="e3" x1="2647" y1="1397" x2="2738" y2="1501"/>
<line class="e2" x1="2647" y1="1397" x2="2842" y2="1549"/>
<line class="e1" x1="2647" y1="1397" x2="2903" y2="1315"/>
<line class="e2" x1="2599" y1="1571" x2="2738" y2="1501"/>
<line class="e2" x1="2599" y1="1571" x2="2730" y2="1664"/>
<line class="e1" x1="2599" y1="1571" x2="2527" y2="1778"/>
<line class="e1" x1="2599" y1="1571" x2="2842" y2="1549"/>
<line class="e1" x1="2599" y1="1571" x2="2903" y2="1315"/>
<line class="e2" x1="2295" y1="1740" x2="2372" y2="1788"/>
<line class="e2" x1="2295" y1="1740" x2="2326" y2="1813"/>
<line class="e1" x1="2372" y1="1788" x2="2326" y2="1813"/>
<line class="e2" x1="2372" y1="1788" x2="2527" y2="1778"/>
<line class="e2" x1="2527" y1="1778" x2="2589" y2="1891"/>
<line class="e2" x1="2527" y1="1778" x2="2570" y2="1943"/>
<line class="e2" x1="2527" y1="1778" x2="2476" y2="1971"/>
<line class="e1" x1="2527" y1="1778" x2="2556" y2="1998"/>
<line class="e2" x1="1980" y1="1766" x2="1928" y2="1792"/>
<line class="e2" x1="1928" y1="1792" x2="1835" y2="1950"/>
<line class="e1" x1="1980" y1="1766" x2="1835" y2="1950"/>
<line class="e1" x1="2295" y1="1740" x2="2126" y2="1879"/>
<line class="e1" x1="2126" y1="1879" x2="2326" y2="1813"/>
<line class="e1" x1="2198" y1="1971" x2="2326" y2="1813"/>
<line class="e1" x1="2198" y1="1971" x2="2372" y2="1788"/>
<line class="e1" x1="2682" y1="1013" x2="2849" y2="1187"/>
<line class="e1" x1="3242" y1="986" x2="3458" y2="1026"/>
<line class="e3" x1="3242" y1="986" x2="3289" y2="1108"/>
<line class="e2" x1="3242" y1="986" x2="3376" y2="1107"/>
<line class="e2" x1="3242" y1="986" x2="3101" y2="1153"/>
<line class="e3" x1="3458" y1="1026" x2="3376" y2="1107"/>
<line class="e1" x1="3458" y1="1026" x2="3289" y2="1108"/>
<line class="e3" x1="3289" y1="1108" x2="3376" y2="1107"/>
<line class="e2" x1="3289" y1="1108" x2="3101" y2="1153"/>
<line class="e1" x1="3289" y1="1108" x2="3341" y2="1339"/>
<line class="e1" x1="3289" y1="1108" x2="3218" y2="1383"/>
<line class="e1" x1="3376" y1="1107" x2="3341" y2="1339"/>
<line class="e1" x1="3376" y1="1107" x2="3364" y2="1366"/>
<line class="e1" x1="3101" y1="1153" x2="2849" y2="1187"/>
<line class="e1" x1="3101" y1="1153" x2="2903" y2="1315"/>
<line class="e1" x1="3101" y1="1153" x2="3153" y2="1402"/>
<line class="e1" x1="3101" y1="1153" x2="3218" y2="1383"/>
<line class="e1" x1="3101" y1="1153" x2="3341" y2="1339"/>
<line class="e3" x1="2849" y1="1187" x2="2903" y2="1315"/>
<line class="e1" x1="2849" y1="1187" x2="2738" y2="1501"/>
<line class="e1" x1="2849" y1="1187" x2="2647" y2="1397"/>
<line class="e2" x1="2903" y1="1315" x2="3153" y2="1402"/>
<line class="e1" x1="2903" y1="1315" x2="2842" y2="1549"/>
<line class="e1" x1="2903" y1="1315" x2="2738" y2="1501"/>
<line class="e3" x1="3341" y1="1339" x2="3218" y2="1383"/>
<line class="e2" x1="3218" y1="1383" x2="3364" y2="1366"/>
<line class="e4" x1="3153" y1="1402" x2="3218" y2="1383"/>
<line class="e1" x1="3153" y1="1402" x2="3003" y2="1766"/>
<line class="e3" x1="2738" y1="1501" x2="2842" y2="1549"/>
<line class="e2" x1="2738" y1="1501" x2="2730" y2="1664"/>
<line class="e2" x1="2842" y1="1549" x2="2730" y2="1664"/>
<line class="e1" x1="2842" y1="1549" x2="3003" y2="1766"/>
<line class="e1" x1="2730" y1="1664" x2="3003" y2="1766"/>
<line class="e5" x1="3407" y1="1709" x2="3507" y2="1709"/>
<line class="e1" x1="3003" y1="1766" x2="3364" y2="1709"/>
<line class="e1" x1="3364" y1="1709" x2="3240" y2="1896"/>
<line class="e1" x1="3407" y1="1709" x2="3240" y2="1896"/>
<line class="e1" x1="3507" y1="1709" x2="3240" y2="1896"/>
<line class="e1" x1="3364" y1="1366" x2="3364" y2="1709"/>
<line class="e1" x1="3364" y1="1366" x2="3407" y2="1709"/>
<line class="e1" x1="3341" y1="1339" x2="3507" y2="1709"/>
<line class="e1" x1="2541" y1="1201" x2="2849" y2="1187"/>
<line class="e2" x1="99" y1="2008" x2="293" y2="1984"/>
<line class="e2" x1="99" y1="2008" x2="296" y2="2055"/>
<line class="e2" x1="99" y1="2008" x2="218" y2="2221"/>
<line class="e1" x1="99" y1="2008" x2="365" y2="2041"/>
<line class="e3" x1="293" y1="1984" x2="296" y2="2055"/>
<line class="e3" x1="293" y1="1984" x2="365" y2="2041"/>
<line class="e1" x1="293" y1="1984" x2="457" y2="2032"/>
<line class="e1" x1="293" y1="1984" x2="218" y2="2221"/>
<line class="e3" x1="296" y1="2055" x2="365" y2="2041"/>
<line class="e2" x1="296" y1="2055" x2="218" y2="2221"/>
<line class="e1" x1="296" y1="2055" x2="342" y2="2307"/>
<line class="e3" x1="365" y1="2041" x2="457" y2="2032"/>
<line class="e2" x1="365" y1="2041" x2="498" y2="2091"/>
<line class="e1" x1="365" y1="2041" x2="218" y2="2221"/>
<line class="e3" x1="457" y1="2032" x2="498" y2="2091"/>
<line class="e2" x1="457" y1="2032" x2="515" y2="1944"/>
<line class="e1" x1="457" y1="2032" x2="452" y2="1871"/>
<line class="e2" x1="452" y1="1871" x2="515" y2="1944"/>
<line class="e2" x1="452" y1="1871" x2="564" y2="1912"/>
<line class="e2" x1="515" y1="1944" x2="564" y2="1912"/>
<line class="e2" x1="564" y1="1912" x2="714" y2="1910"/>
<line class="e2" x1="564" y1="1912" x2="633" y2="1824"/>
<line class="e2" x1="714" y1="1910" x2="633" y2="1824"/>
<line class="e1" x1="714" y1="1910" x2="667" y2="2089"/>
<line class="e1" x1="515" y1="1944" x2="498" y2="2091"/>
<line class="e1" x1="564" y1="1912" x2="498" y2="2091"/>
<line class="e1" x1="452" y1="1871" x2="633" y2="1824"/>
<line class="e1" x1="515" y1="1944" x2="633" y2="1824"/>
<line class="e1" x1="498" y1="2091" x2="667" y2="2089"/>
<line class="e1" x1="498" y1="2091" x2="342" y2="2307"/>
<line class="e3" x1="667" y1="2089" x2="677" y2="2149"/>
<line class="e2" x1="667" y1="2089" x2="718" y2="2194"/>
<line class="e3" x1="677" y1="2149" x2="718" y2="2194"/>
<line class="e2" x1="677" y1="2149" x2="662" y2="2288"/>
<line class="e1" x1="718" y1="2194" x2="752" y2="2222"/>
<line class="e1" x1="718" y1="2194" x2="872" y2="2213"/>
<line class="e2" x1="718" y1="2194" x2="662" y2="2288"/>
<line class="e2" x1="752" y1="2222" x2="662" y2="2288"/>
<line class="e2" x1="752" y1="2222" x2="872" y2="2213"/>
<line class="e1" x1="752" y1="2222" x2="805" y2="2428"/>
<line class="e1" x1="752" y1="2222" x2="858" y2="2429"/>
<line class="e1" x1="662" y1="2288" x2="342" y2="2307"/>
<line class="e1" x1="662" y1="2288" x2="805" y2="2428"/>
<line class="e1" x1="872" y1="2213" x2="881" y2="2389"/>
<line class="e1" x1="872" y1="2213" x2="858" y2="2429"/>
<line class="e3" x1="218" y1="2221" x2="342" y2="2307"/>
<line class="e1" x1="218" y1="2221" x2="261" y2="2489"/>
<line class="e2" x1="342" y1="2307" x2="261" y2="2489"/>
<line class="e2" x1="342" y1="2307" x2="401" y2="2488"/>
<line class="e2" x1="261" y1="2489" x2="401" y2="2488"/>
<line class="e3" x1="261" y1="2489" x2="100" y2="2575"/>
<line class="e3" x1="261" y1="2489" x2="276" y2="2620"/>
<line class="e1" x1="261" y1="2489" x2="443" y2="2605"/>
<line class="e1" x1="261" y1="2489" x2="497" y2="2566"/>
<line class="e2" x1="401" y1="2488" x2="497" y2="2566"/>
<line class="e2" x1="401" y1="2488" x2="443" y2="2605"/>
<line class="e1" x1="401" y1="2488" x2="526" y2="2637"/>
<line class="e1" x1="401" y1="2488" x2="276" y2="2620"/>
<line class="e3" x1="100" y1="2575" x2="276" y2="2620"/>
<line class="e2" x1="100" y1="2575" x2="269" y2="2724"/>
<line class="e4" x1="276" y1="2620" x2="269" y2="2724"/>
<line class="e1" x1="276" y1="2620" x2="443" y2="2605"/>
<line class="e1" x1="276" y1="2620" x2="466" y2="2686"/>
<line class="e2" x1="497" y1="2566" x2="443" y2="2605"/>
<line class="e3" x1="497" y1="2566" x2="526" y2="2637"/>
<line class="e1" x1="497" y1="2566" x2="466" y2="2686"/>
<line class="e1" x1="497" y1="2566" x2="681" y2="2622"/>
<line class="e2" x1="443" y1="2605" x2="526" y2="2637"/>
<line class="e3" x1="443" y1="2605" x2="466" y2="2686"/>
<line class="e1" x1="443" y1="2605" x2="269" y2="2724"/>
<line class="e3" x1="526" y1="2637" x2="466" y2="2686"/>
<line class="e2" x1="526" y1="2637" x2="681" y2="2622"/>
<line class="e2" x1="466" y1="2686" x2="269" y2="2724"/>
<line class="e3" x1="681" y1="2622" x2="814" y2="2736"/>
<line class="e1" x1="681" y1="2622" x2="814" y2="2513"/>
<line class="e1" x1="681" y1="2622" x2="805" y2="2428"/>
<line class="e1" x1="805" y1="2428" x2="858" y2="2429"/>
<line class="e3" x1="805" y1="2428" x2="814" y2="2513"/>
<line class="e3" x1="858" y1="2429" x2="814" y2="2513"/>
<line class="e2" x1="858" y1="2429" x2="881" y2="2389"/>
<line class="e1" x1="814" y1="2513" x2="814" y2="2736"/>
<line class="e1" x1="872" y1="2213" x2="667" y2="2089"/>
<line class="e1" x1="218" y1="2221" x2="100" y2="2575"/>
<line class="e3" x1="1402" y1="1991" x2="1409" y2="2056"/>
<line class="e1" x1="1402" y1="1991" x2="1225" y2="2064"/>
<line class="e1" x1="1402" y1="1991" x2="1238" y2="2103"/>
<line class="e1" x1="1402" y1="1991" x2="1215" y2="2168"/>
<line class="e1" x1="1225" y1="2064" x2="1409" y2="2056"/>
<line class="e1" x1="1225" y1="2064" x2="1238" y2="2103"/>
<line class="e2" x1="1409" y1="2056" x2="1238" y2="2103"/>
<line class="e2" x1="1409" y1="2056" x2="1215" y2="2168"/>
<line class="e2" x1="1409" y1="2056" x2="1361" y2="2192"/>
<line class="e1" x1="1409" y1="2056" x2="1435" y2="2344"/>
<line class="e1" x1="1203" y1="2105" x2="1238" y2="2103"/>
<line class="e2" x1="1203" y1="2105" x2="1215" y2="2168"/>
<line class="e2" x1="1238" y1="2103" x2="1215" y2="2168"/>
<line class="e1" x1="1189" y1="2156" x2="1215" y2="2168"/>
<line class="e2" x1="1189" y1="2156" x2="1191" y2="2246"/>
<line class="e3" x1="1215" y1="2168" x2="1191" y2="2246"/>
<line class="e3" x1="1191" y1="2246" x2="1168" y2="2309"/>
<line class="e1" x1="1203" y1="2105" x2="1191" y2="2246"/>
<line class="e2" x1="1238" y1="2103" x2="1361" y2="2192"/>
<line class="e2" x1="1215" y1="2168" x2="1361" y2="2192"/>
<line class="e1" x1="1215" y1="2168" x2="1248" y2="2345"/>
<line class="e1" x1="1361" y1="2192" x2="1248" y2="2345"/>
<line class="e2" x1="1361" y1="2192" x2="1435" y2="2344"/>
<line class="e1" x1="1361" y1="2192" x2="1392" y2="2373"/>
<line class="e1" x1="1361" y1="2192" x2="1191" y2="2246"/>
<line class="e1" x1="1361" y1="2192" x2="1293" y2="2385"/>
<line class="e3" x1="1168" y1="2309" x2="1248" y2="2345"/>
<line class="e1" x1="1168" y1="2309" x2="1134" y2="2488"/>
<line class="e1" x1="1168" y1="2309" x2="1040" y2="2497"/>
<line class="e2" x1="1248" y1="2345" x2="1293" y2="2385"/>
<line class="e1" x1="1248" y1="2345" x2="1392" y2="2373"/>
<line class="e1" x1="1248" y1="2345" x2="1134" y2="2488"/>
<line class="e1" x1="1248" y1="2345" x2="1435" y2="2344"/>
<line class="e2" x1="1293" y1="2385" x2="1392" y2="2373"/>
<line class="e1" x1="1293" y1="2385" x2="1298" y2="2662"/>
<line class="e1" x1="1293" y1="2385" x2="1134" y2="2488"/>
<line class="e1" x1="1392" y1="2373" x2="1435" y2="2344"/>
<line class="e2" x1="1392" y1="2373" x2="1543" y2="2405"/>
<line class="e2" x1="1435" y1="2344" x2="1543" y2="2405"/>
<line class="e1" x1="1435" y1="2344" x2="1627" y2="2270"/>
<line class="e2" x1="1627" y1="2270" x2="1543" y2="2405"/>
<line class="e2" x1="1627" y1="2270" x2="1747" y2="2381"/>
<line class="e2" x1="1627" y1="2270" x2="1673" y2="2438"/>
<line class="e2" x1="1627" y1="2270" x2="1761" y2="2199"/>
<line class="e2" x1="1543" y1="2405" x2="1673" y2="2438"/>
<line class="e2" x1="1543" y1="2405" x2="1689" y2="2480"/>
<line class="e1" x1="1543" y1="2405" x2="1662" y2="2529"/>
<line class="e1" x1="1543" y1="2405" x2="1747" y2="2381"/>
<line class="e1" x1="1543" y1="2405" x2="1633" y2="2699"/>
<line class="e2" x1="1673" y1="2438" x2="1689" y2="2480"/>
<line class="e2" x1="1689" y1="2480" x2="1662" y2="2529"/>
<line class="e2" x1="1689" y1="2480" x2="1747" y2="2381"/>
<line class="e2" x1="1689" y1="2480" x2="1789" y2="2528"/>
<line class="e1" x1="1662" y1="2529" x2="1789" y2="2528"/>
<line class="e3" x1="1662" y1="2529" x2="1633" y2="2699"/>
<line class="e1" x1="1633" y1="2699" x2="1789" y2="2528"/>
<line class="e1" x1="1747" y1="2381" x2="1761" y2="2199"/>
<line class="e1" x1="1747" y1="2381" x2="1789" y2="2528"/>
<line class="e3" x1="1741" y1="2041" x2="1761" y2="2199"/>
<line class="e2" x1="1741" y1="2041" x2="1835" y2="1950"/>
<line class="e3" x1="1040" y1="2497" x2="1134" y2="2488"/>
<line class="e2" x1="1040" y1="2497" x2="1006" y2="2612"/>
<line class="e1" x1="1040" y1="2497" x2="1066" y2="2699"/>
<line class="e1" x1="1134" y1="2488" x2="1006" y2="2612"/>
<line class="e1" x1="1134" y1="2488" x2="1066" y2="2699"/>
<line class="e2" x1="1134" y1="2488" x2="1298" y2="2662"/>
<line class="e3" x1="1006" y1="2612" x2="1066" y2="2699"/>
<line class="e2" x1="1066" y1="2699" x2="1298" y2="2662"/>
<line class="e1" x1="1298" y1="2662" x2="1633" y2="2699"/>
<line class="e1" x1="1006" y1="2612" x2="881" y2="2389"/>
<line class="e1" x1="1040" y1="2497" x2="881" y2="2389"/>
<line class="e1" x1="1066" y1="2699" x2="814" y2="2736"/>
<line class="e1" x1="681" y1="2622" x2="1006" y2="2612"/>
<line class="e1" x1="814" y1="2513" x2="1006" y2="2612"/>
<line class="e1" x1="1835" y1="1950" x2="1979" y2="2196"/>
<line class="e1" x1="1835" y1="1950" x2="1928" y2="2211"/>
<line class="e1" x1="1835" y1="1950" x2="2126" y2="1879"/>
<line class="e1" x1="1835" y1="1950" x2="2115" y2="1984"/>
<line class="e2" x1="2126" y1="1879" x2="2115" y2="1984"/>
<line class="e2" x1="2126" y1="1879" x2="2198" y2="1971"/>
<line class="e2" x1="2126" y1="1879" x2="2104" y2="2000"/>
<line class="e2" x1="2115" y1="1984" x2="2198" y2="1971"/>
<line class="e1" x1="2104" y1="2000" x2="2198" y2="1971"/>
<line class="e1" x1="2198" y1="1971" x2="2395" y2="2080"/>
<line class="e1" x1="2589" y1="1891" x2="2570" y2="1943"/>
<line class="e1" x1="2589" y1="1891" x2="2476" y2="1971"/>
<line class="e2" x1="2476" y1="1971" x2="2570" y2="1943"/>
<line class="e2" x1="2476" y1="1971" x2="2556" y2="1998"/>
<line class="e2" x1="2476" y1="1971" x2="2395" y2="2080"/>
<line class="e1" x1="2476" y1="1971" x2="2446" y2="2137"/>
<line class="e1" x1="2570" y1="1943" x2="2556" y2="1998"/>
<line class="e1" x1="2556" y1="1998" x2="2446" y2="2137"/>
<line class="e1" x1="2556" y1="1998" x2="2395" y2="2080"/>
<line class="e3" x1="2395" y1="2080" x2="2446" y2="2137"/>
<line class="e2" x1="2446" y1="2137" x2="2414" y2="2382"/>
<line class="e1" x1="2395" y1="2080" x2="2414" y2="2382"/>
<line class="e1" x1="1928" y1="2211" x2="1979" y2="2196"/>
<line class="e1" x1="1928" y1="2211" x2="1761" y2="2199"/>
<line class="e1" x1="1928" y1="2211" x2="1761" y2="2188"/>
<line class="e2" x1="1928" y1="2211" x2="2029" y2="2349"/>
<line class="e2" x1="1979" y1="2196" x2="2029" y2="2349"/>
<line class="e1" x1="1979" y1="2196" x2="2104" y2="2000"/>
<line class="e3" x1="2029" y1="2349" x2="2129" y2="2459"/>
<line class="e1" x1="2029" y1="2349" x2="2102" y2="2589"/>
<line class="e1" x1="2029" y1="2349" x2="1968" y2="2612"/>
<line class="e3" x1="2129" y1="2459" x2="2102" y2="2589"/>
<line class="e2" x1="2129" y1="2459" x2="2284" y2="2576"/>
<line class="e1" x1="2129" y1="2459" x2="2414" y2="2382"/>
<line class="e1" x1="2129" y1="2459" x2="1968" y2="2612"/>
<line class="e1" x1="2129" y1="2459" x2="2247" y2="2694"/>
<line class="e3" x1="2102" y1="2589" x2="1968" y2="2612"/>
<line class="e2" x1="2102" y1="2589" x2="2284" y2="2576"/>
<line class="e3" x1="2102" y1="2589" x2="2247" y2="2694"/>
<line class="e4" x1="2284" y1="2576" x2="2247" y2="2694"/>
<line class="e3" x1="2284" y1="2576" x2="2442" y2="2696"/>
<line class="e2" x1="2284" y1="2576" x2="2414" y2="2382"/>
<line class="e3" x1="2247" y1="2694" x2="2442" y2="2696"/>
<line class="e2" x1="2414" y1="2382" x2="2442" y2="2696"/>
<line class="e2" x1="1968" y1="2612" x2="1789" y2="2528"/>
<line class="e1" x1="1968" y1="2612" x2="2247" y2="2694"/>
<line class="e1" x1="2414" y1="2382" x2="2732" y2="2382"/>
<line class="e1" x1="2442" y1="2696" x2="2929" y2="2706"/>
<line class="e1" x1="1968" y1="2612" x2="1633" y2="2699"/>
<line class="e1" x1="2102" y1="2589" x2="2442" y2="2696"/>
<line class="e3" x1="3240" y1="1896" x2="3326" y2="1972"/>
<line class="e1" x1="3240" y1="1896" x2="3077" y2="2035"/>
<line class="e2" x1="3240" y1="1896" x2="3159" y2="2064"/>
<line class="e2" x1="3326" y1="1972" x2="3399" y2="2084"/>
<line class="e2" x1="3326" y1="1972" x2="3336" y2="2150"/>
<line class="e1" x1="3326" y1="1972" x2="3159" y2="2064"/>
<line class="e1" x1="3326" y1="1972" x2="3435" y2="2127"/>
<line class="e3" x1="3077" y1="2035" x2="3159" y2="2064"/>
<line class="e2" x1="3077" y1="2035" x2="3098" y2="2191"/>
<line class="e1" x1="3077" y1="2035" x2="2852" y2="2080"/>
<line class="e2" x1="3159" y1="2064" x2="3098" y2="2191"/>
<line class="e1" x1="3159" y1="2064" x2="3336" y2="2150"/>
<line class="e1" x1="3159" y1="2064" x2="3210" y2="2300"/>
<line class="e2" x1="2852" y1="2080" x2="2759" y2="2228"/>
<line class="e1" x1="2852" y1="2080" x2="2750" y2="2312"/>
<line class="e1" x1="2852" y1="2080" x2="3098" y2="2191"/>
<line class="e1" x1="2852" y1="2080" x2="2920" y2="2337"/>
<line class="e2" x1="3399" y1="2084" x2="3435" y2="2127"/>
<line class="e2" x1="3399" y1="2084" x2="3336" y2="2150"/>
<line class="e2" x1="3435" y1="2127" x2="3336" y2="2150"/>
<line class="e2" x1="3435" y1="2127" x2="3471" y2="2233"/>
<line class="e1" x1="3435" y1="2127" x2="3457" y2="2289"/>
<line class="e3" x1="3471" y1="2233" x2="3457" y2="2289"/>
<line class="e1" x1="3336" y1="2150" x2="3471" y2="2233"/>
<line class="e2" x1="3336" y1="2150" x2="3457" y2="2289"/>
<line class="e1" x1="3336" y1="2150" x2="3210" y2="2300"/>
<line class="e2" x1="3098" y1="2191" x2="3210" y2="2300"/>
<line class="e2" x1="3098" y1="2191" x2="3191" y2="2347"/>
<line class="e1" x1="3098" y1="2191" x2="3011" y2="2383"/>
<line class="e1" x1="3098" y1="2191" x2="2920" y2="2337"/>
<line class="e3" x1="2759" y1="2228" x2="2750" y2="2312"/>
<line class="e2" x1="2759" y1="2228" x2="2920" y2="2337"/>
<line class="e1" x1="2759" y1="2228" x2="2921" y2="2388"/>
<line class="e3" x1="2750" y1="2312" x2="2732" y2="2382"/>
<line class="e2" x1="2750" y1="2312" x2="2920" y2="2337"/>
<line class="e2" x1="2750" y1="2312" x2="2921" y2="2388"/>
<line class="e2" x1="2732" y1="2382" x2="2921" y2="2388"/>
<line class="e1" x1="2732" y1="2382" x2="2920" y2="2337"/>
<line class="e1" x1="2732" y1="2382" x2="2929" y2="2706"/>
<line class="e3" x1="2920" y1="2337" x2="3011" y2="2383"/>
<line class="e1" x1="2920" y1="2337" x2="2921" y2="2388"/>
<line class="e3" x1="2921" y1="2388" x2="3011" y2="2383"/>
<line class="e2" x1="2921" y1="2388" x2="2929" y2="2706"/>
<line class="e2" x1="3011" y1="2383" x2="2929" y2="2706"/>
<line class="e2" x1="3011" y1="2383" x2="3191" y2="2347"/>
<line class="e1" x1="3191" y1="2347" x2="3210" y2="2300"/>
<line class="e2" x1="3191" y1="2347" x2="3354" y2="2396"/>
<line class="e2" x1="3210" y1="2300" x2="3354" y2="2396"/>
<line class="e2" x1="3354" y1="2396" x2="3457" y2="2289"/>
<line class="e1" x1="3354" y1="2396" x2="3471" y2="2233"/>
<line class="e1" x1="3003" y1="1766" x2="2852" y2="2080"/>
<line class="e2" x1="3003" y1="1766" x2="3077" y2="2035"/>
<line class="e1" x1="3003" y1="1766" x2="3098" y2="2191"/>
<line class="e1" x1="3003" y1="1766" x2="3240" y2="1896"/>
<line class="e1" x1="3003" y1="1766" x2="3159" y2="2064"/>
<line class="e1" x1="2730" y1="1664" x2="2852" y2="2080"/>
<line class="e1" x1="2730" y1="1664" x2="2527" y2="1778"/>
<line class="e1" x1="2709" y1="805" x2="2623" y2="999"/>
<line class="e2" x1="2709" y1="805" x2="2682" y2="1013"/>
<line class="e1" x1="2709" y1="805" x2="2452" y2="936"/>
<line class="e1" x1="3210" y1="2300" x2="3457" y2="2289"/>
<line class="e1" x1="3159" y1="2064" x2="3399" y2="2084"/>
</g>
<g id="nodes">
<g id="n0" class="nd" transform="translate(752,2222)"><circle r="20"/><text y="4.3">0</text></g>
<g id="n1" class="nd" transform="translate(1870,695)"><circle r="20"/><text y="4.3">1</text></g>
<g id="n2" class="nd" transform="translate(1066,2699)"><circle r="20"/><text y="4.3">2</text></g>
<g id="n3" class="nd" transform="translate(1179,1199)"><circle r="20"/><text y="4.3">3</text></g>
<g id="n4" class="nd" transform="translate(526,2637)"><circle r="20"/><text y="4.3">4</text></g>
<g id="n5" class="nd" transform="translate(762,1286)"><circle r="20"/><text y="4.3">5</text></g>
<g id="n6" class="nd" transform="translate(276,2620)"><circle r="20"/><text y="4.3">6</text></g>
<g id="n7" class="nd" transform="translate(1006,2612)"><circle r="20"/><text y="4.3">7</text></g>
<g id="n8" class="nd" transform="translate(1792,413)"><circle r="20"/><text y="4.3">8</text></g>
<g id="n9" class="nd" transform="translate(3101,1153)"><circle r="20"/><text y="4.3">9</text></g>
<g id="n10" class="nd" transform="translate(1835,1950)"><circle r="20"/><text y="4.3">10</text></g>
<g id="n11" class="nd" transform="translate(333,1833)"><circle r="20"/><text y="4.3">11</text></g>
<g id="n12" class="nd" transform="translate(1685,1749)"><circle r="20"/><text y="4.3">12</text></g>
<g id="n13" class="nd" transform="translate(1864,467)"><circle r="20"/><text y="4.3">13</text></g>
<g id="n14" class="nd" transform="translate(3240,1896)"><circle r="20"/><text y="4.3">14</text></g>
<g id="n15" class="nd" transform="translate(3261,542)"><circle r="20"/><text y="4.3">15</text></g>
<g id="n16" class="nd" transform="translate(3507,1709)"><circle r="20"/><text y="4.3">16</text></g>
<g id="n17" class="nd" transform="translate(1180,1168)"><circle r="20"/><text y="4.3">17</text></g>
<g id="n18" class="nd" transform="translate(2029,2349)"><circle r="20"/><text y="4.3">18</text></g>
<g id="n19" class="nd" transform="translate(296,2055)"><circle r="20"/><text y="4.3">19</text></g>
<g id="n20" class="nd" transform="translate(1747,2381)"><circle r="20"/><text y="4.3">20</text></g>
<g id="n21" class="nd" transform="translate(355,1629)"><circle r="20"/><text y="4.3">21</text></g>
<g id="n22" class="nd" transform="translate(814,2513)"><circle r="20"/><text y="4.3">22</text></g>
<g id="n23" class="nd" transform="translate(2004,826)"><circle r="20"/><text y="4.3">23</text></g>
<g id="n24" class="nd" transform="translate(1615,1171)"><circle r="20"/><text y="4.3">24</text></g>
<g id="n25" class="nd" transform="translate(2527,1778)"><circle r="20"/><text y="4.3">25</text></g>
<g id="n26" class="nd" transform="translate(2414,2382)"><circle r="20"/><text y="4.3">26</text></g>
<g id="n27" class="nd" transform="translate(3077,2035)"><circle r="20"/><text y="4.3">27</text></g>
<g id="n28" class="nd" transform="translate(662,198)"><circle r="20"/><text y="4.3">28</text></g>
<g id="n29" class="nd" transform="translate(293,1984)"><circle r="20"/><text y="4.3">29</text></g>
<g id="n30" class="nd" transform="translate(486,1244)"><circle r="20"/><text y="4.3">30</text></g>
<g id="n32" class="nd" transform="translate(735,1629)"><circle r="20"/><text y="4.3">32</text></g>
<g id="n33" class="nd" transform="translate(466,2686)"><circle r="20"/><text y="4.3">33</text></g>
<g id="n34" class="nd" transform="translate(2191,731)"><circle r="20"/><text y="4.3">34</text></g>
<g id="n35" class="nd" transform="translate(1079,36)"><circle r="20"/><text y="4.3">35</text></g>
<g id="n36" class="nd" transform="translate(3003,1766)"><circle r="20"/><text y="4.3">36</text></g>
<g id="n37" class="nd" transform="translate(1968,2612)"><circle r="20"/><text y="4.3">37</text></g>
<g id="n38" class="nd" transform="translate(3364,1709)"><circle r="20"/><text y="4.3">38</text></g>
<g id="n39" class="nd" transform="translate(690,1822)"><circle r="20"/><text y="4.3">39</text></g>
<g id="n40" class="nd" transform="translate(1909,907)"><circle r="20"/><text y="4.3">40</text></g>
<g id="n41" class="nd" transform="translate(1046,1155)"><circle r="20"/><text y="4.3">41</text></g>
<g id="n42" class="nd" transform="translate(3291,861)"><circle r="20"/><text y="4.3">42</text></g>
<g id="n43" class="nd" transform="translate(1423,1297)"><circle r="20"/><text y="4.3">43</text></g>
<g id="n44" class="nd" transform="translate(1337,566)"><circle r="20"/><text y="4.3">44</text></g>
<g id="n45" class="nd" transform="translate(3438,658)"><circle r="20"/><text y="4.3">45</text></g>
<g id="n46" class="nd" transform="translate(2976,251)"><circle r="20"/><text y="4.3">46</text></g>
<g id="n47" class="nd" transform="translate(994,1619)"><circle r="20"/><text y="4.3">47</text></g>
<g id="n48" class="nd" transform="translate(2623,999)"><circle r="20"/><text y="4.3">48</text></g>
<g id="n49" class="nd" transform="translate(381,562)"><circle r="20"/><text y="4.3">49</text></g>
<g id="n50" class="nd" transform="translate(1659,849)"><circle r="20"/><text y="4.3">50</text></g>
<g id="n51" class="nd" transform="translate(961,163)"><circle r="20"/><text y="4.3">51</text></g>
<g id="n52" class="nd" transform="translate(1482,63)"><circle r="20"/><text y="4.3">52</text></g>
<g id="n53" class="nd" transform="translate(3054,573)"><circle r="20"/><text y="4.3">53</text></g>
<g id="n54" class="nd" transform="translate(99,2008)"><circle r="20"/><text y="4.3">54</text></g>
<g id="n55" class="nd" transform="translate(1263,837)"><circle r="20"/><text y="4.3">55</text></g>
<g id="n56" class="nd" transform="translate(729,149)"><circle r="20"/><text y="4.3">56</text></g>
<g id="n57" class="nd" transform="translate(3458,1026)"><circle r="20"/><text y="4.3">57</text></g>
<g id="n58" class="nd" transform="translate(1127,540)"><circle r="20"/><text y="4.3">58</text></g>
<g id="n59" class="nd" transform="translate(1100,1674)"><circle r="20"/><text y="4.3">59</text></g>
<g id="n60" class="nd" transform="translate(1928,2211)"><circle r="20"/><text y="4.3">60</text></g>
<g id="n61" class="nd" transform="translate(1040,2497)"><circle r="20"/><text y="4.3">61</text></g>
<g id="n62" class="nd" transform="translate(564,1912)"><circle r="20"/><text y="4.3">62</text></g>
<g id="n63" class="nd" transform="translate(1402,1991)"><circle r="20"/><text y="4.3">63</text></g>
<g id="n64" class="nd" transform="translate(3407,1709)"><circle r="20"/><text y="4.3">64</text></g>
<g id="n65" class="nd" transform="translate(1721,168)"><circle r="20"/><text y="4.3">65</text></g>
<g id="n66" class="nd" transform="translate(2309,269)"><circle r="20"/><text y="4.3">66</text></g>
<g id="n67" class="nd" transform="translate(2976,583)"><circle r="20"/><text y="4.3">67</text></g>
<g id="n68" class="nd" transform="translate(941,100)"><circle r="20"/><text y="4.3">68</text></g>
<g id="n69" class="nd" transform="translate(1723,293)"><circle r="20"/><text y="4.3">69</text></g>
<g id="n70" class="nd" transform="translate(1979,2196)"><circle r="20"/><text y="4.3">70</text></g>
<g id="n71" class="nd" transform="translate(95,402)"><circle r="20"/><text y="4.3">71</text></g>
<g id="n72" class="nd" transform="translate(2682,1013)"><circle r="20"/><text y="4.3">72</text></g>
<g id="n73" class="nd" transform="translate(94,214)"><circle r="20"/><text y="4.3">73</text></g>
<g id="n74" class="nd" transform="translate(2852,2080)"><circle r="20"/><text y="4.3">74</text></g>
<g id="n75" class="nd" transform="translate(2313,1244)"><circle r="20"/><text y="4.3">75</text></g>
<g id="n76" class="nd" transform="translate(100,2575)"><circle r="20"/><text y="4.3">76</text></g>
<g id="n77" class="nd" transform="translate(1036,59)"><circle r="20"/><text y="4.3">77</text></g>
<g id="n78" class="nd" transform="translate(2141,1428)"><circle r="20"/><text y="4.3">78</text></g>
<g id="n79" class="nd" transform="translate(858,2429)"><circle r="20"/><text y="4.3">79</text></g>
<g id="n80" class="nd" transform="translate(3376,1107)"><circle r="20"/><text y="4.3">80</text></g>
<g id="n81" class="nd" transform="translate(2570,1943)"><circle r="20"/><text y="4.3">81</text></g>
<g id="n82" class="nd" transform="translate(1240,559)"><circle r="20"/><text y="4.3">82</text></g>
<g id="n83" class="nd" transform="translate(243,1298)"><circle r="20"/><text y="4.3">83</text></g>
<g id="n84" class="nd" transform="translate(1203,2105)"><circle r="20"/><text y="4.3">84</text></g>
<g id="n85" class="nd" transform="translate(2295,1740)"><circle r="20"/><text y="4.3">85</text></g>
<g id="n86" class="nd" transform="translate(933,1527)"><circle r="20"/><text y="4.3">86</text></g>
<g id="n87" class="nd" transform="translate(2589,1891)"><circle r="20"/><text y="4.3">87</text></g>
<g id="n88" class="nd" transform="translate(342,2307)"><circle r="20"/><text y="4.3">88</text></g>
<g id="n89" class="nd" transform="translate(1106,1725)"><circle r="20"/><text y="4.3">89</text></g>
<g id="n90" class="nd" transform="translate(2509,456)"><circle r="20"/><text y="4.3">90</text></g>
<g id="n92" class="nd" transform="translate(2442,2696)"><circle r="20"/><text y="4.3">92</text></g>
<g id="n93" class="nd" transform="translate(2185,289)"><circle r="20"/><text y="4.3">93</text></g>
<g id="n94" class="nd" transform="translate(695,538)"><circle r="20"/><text y="4.3">94</text></g>
<g id="n95" class="nd" transform="translate(1248,2345)"><circle r="20"/><text y="4.3">95</text></g>
<g id="n96" class="nd" transform="translate(2429,753)"><circle r="20"/><text y="4.3">96</text></g>
<g id="n97" class="nd" transform="translate(1774,1621)"><circle r="20"/><text y="4.3">97</text></g>
<g id="n98" class="nd" transform="translate(2448,1042)"><circle r="20"/><text y="4.3">98</text></g>
<g id="n99" class="nd" transform="translate(966,1545)"><circle r="20"/><text y="4.3">99</text></g>
<g id="n100" class="nd" transform="translate(218,2221)"><circle r="20"/><text y="4.3">100</text></g>
<g id="n101" class="nd" transform="translate(2395,2080)"><circle r="20"/><text y="4.3">101</text></g>
<g id="n102" class="nd" transform="translate(3435,2127)"><circle r="20"/><text y="4.3">102</text></g>
<g id="n103" class="nd" transform="translate(1627,2270)"><circle r="20"/><text y="4.3">103</text></g>
<g id="n104" class="nd" transform="translate(2247,2694)"><circle r="20"/><text y="4.3">104</text></g>
<g id="n105" class="nd" transform="translate(3011,2383)"><circle r="20"/><text y="4.3">105</text></g>
<g id="n106" class="nd" transform="translate(1193,1478)"><circle r="20"/><text y="4.3">106</text></g>
<g id="n108" class="nd" transform="translate(2284,2576)"><circle r="20"/><text y="4.3">108</text></g>
<g id="n109" class="nd" transform="translate(741,434)"><circle r="20"/><text y="4.3">109</text></g>
<g id="n110" class="nd" transform="translate(681,2622)"><circle r="20"/><text y="4.3">110</text></g>
<g id="n111" class="nd" transform="translate(1543,2405)"><circle r="20"/><text y="4.3">111</text></g>
<g id="n112" class="nd" transform="translate(789,247)"><circle r="20"/><text y="4.3">112</text></g>
<g id="n113" class="nd" transform="translate(823,755)"><circle r="20"/><text y="4.3">113</text></g>
<g id="n114" class="nd" transform="translate(1045,750)"><circle r="20"/><text y="4.3">114</text></g>
<g id="n115" class="nd" transform="translate(3474,751)"><circle r="20"/><text y="4.3">115</text></g>
<g id="n116" class="nd" transform="translate(912,1380)"><circle r="20"/><text y="4.3">116</text></g>
<g id="n117" class="nd" transform="translate(1582,837)"><circle r="20"/><text y="4.3">117</text></g>
<g id="n118" class="nd" transform="translate(2921,2388)"><circle r="20"/><text y="4.3">118</text></g>
<g id="n119" class="nd" transform="translate(3098,2191)"><circle r="20"/><text y="4.3">119</text></g>
<g id="n120" class="nd" transform="translate(1821,349)"><circle r="20"/><text y="4.3">120</text></g>
<g id="n121" class="nd" transform="translate(3471,2233)"><circle r="20"/><text y="4.3">121</text></g>
<g id="n122" class="nd" transform="translate(3106,492)"><circle r="20"/><text y="4.3">122</text></g>
<g id="n123" class="nd" transform="translate(3029,407)"><circle r="20"/><text y="4.3">123</text></g>
<g id="n124" class="nd" transform="translate(1928,1792)"><circle r="20"/><text y="4.3">124</text></g>
<g id="n125" class="nd" transform="translate(1238,2103)"><circle r="20"/><text y="4.3">125</text></g>
<g id="n126" class="nd" transform="translate(2446,2137)"><circle r="20"/><text y="4.3">126</text></g>
<g id="n127" class="nd" transform="translate(1409,2056)"><circle r="20"/><text y="4.3">127</text></g>
<g id="n128" class="nd" transform="translate(2920,2337)"><circle r="20"/><text y="4.3">128</text></g>
<g id="n129" class="nd" transform="translate(2709,805)"><circle r="20"/><text y="4.3">129</text></g>
<g id="n130" class="nd" transform="translate(481,563)"><circle r="20"/><text y="4.3">130</text></g>
<g id="n131" class="nd" transform="translate(2903,1315)"><circle r="20"/><text y="4.3">131</text></g>
<g id="n132" class="nd" transform="translate(3191,2347)"><circle r="20"/><text y="4.3">132</text></g>
<g id="n133" class="nd" transform="translate(47,677)"><circle r="20"/><text y="4.3">133</text></g>
<g id="n134" class="nd" transform="translate(2415,321)"><circle r="20"/><g id="n258" class="nd" transform="translate(17,-27)"><circle r="20"/><text y="4.3">258</text></g><text y="4.3">134</text></g>
<g id="n135" class="nd" transform="translate(2647,1397)"><circle r="20"/><text y="4.3">135</text></g>
<g id="n136" class="nd" transform="translate(718,2194)"><circle r="20"/><text y="4.3">136</text></g>
<g id="n137" class="nd" transform="translate(1453,308)"><circle r="20"/><text y="4.3">137</text></g>
<g id="n138" class="nd" transform="translate(2231,1103)"><circle r="20"/><text y="4.3">138</text></g>
<g id="n139" class="nd" transform="translate(2102,2589)"><circle r="20"/><text y="4.3">139</text></g>
<g id="n140" class="nd" transform="translate(79,1575)"><circle r="20"/><text y="4.3">140</text></g>
<g id="n141" class="nd" transform="translate(2198,1971)"><circle r="20"/><text y="4.3">141</text></g>
<g id="n142" class="nd" transform="translate(3341,1339)"><circle r="20"/><text y="4.3">142</text></g>
<g id="n143" class="nd" transform="translate(1696,1377)"><circle r="20"/><text y="4.3">143</text></g>
<g id="n144" class="nd" transform="translate(615,623)"><circle r="20"/><text y="4.3">144</text></g>
<g id="n145" class="nd" transform="translate(2116,1371)"><circle r="20"/><text y="4.3">145</text></g>
<g id="n146" class="nd" transform="translate(3399,2084)"><circle r="20"/><text y="4.3">146</text></g>
<g id="n147" class="nd" transform="translate(1563,1561)"><circle r="20"/><text y="4.3">147</text></g>
<g id="n148" class="nd" transform="translate(1615,288)"><circle r="20"/><text y="4.3">148</text></g>
<g id="n149" class="nd" transform="translate(124,1083)"><circle r="20"/><text y="4.3">149</text></g>
<g id="n150" class="nd" transform="translate(3127,534)"><circle r="20"/><text y="4.3">150</text></g>
<g id="n152" class="nd" transform="translate(3218,1383)"><circle r="20"/><text y="4.3">152</text></g>
<g id="n153" class="nd" transform="translate(1995,761)"><circle r="20"/><text y="4.3">153</text></g>
<g id="n154" class="nd" transform="translate(315,1585)"><circle r="20"/><text y="4.3">154</text></g>
<g id="n155" class="nd" transform="translate(464,600)"><circle r="20"/><text y="4.3">155</text></g>
<g id="n156" class="nd" transform="translate(814,2736)"><circle r="20"/><text y="4.3">156</text></g>
<g id="n157" class="nd" transform="translate(293,1040)"><circle r="20"/><text y="4.3">157</text></g>
<g id="n158" class="nd" transform="translate(2970,304)"><circle r="20"/><text y="4.3">158</text></g>
<g id="n159" class="nd" transform="translate(1980,1766)"><circle r="20"/><text y="4.3">159</text></g>
<g id="n160" class="nd" transform="translate(3457,2289)"><circle r="20"/><text y="4.3">160</text></g>
<g id="n161" class="nd" transform="translate(996,1360)"><circle r="20"/><text y="4.3">161</text></g>
<g id="n162" class="nd" transform="translate(842,423)"><circle r="20"/><text y="4.3">162</text></g>
<g id="n163" class="nd" transform="translate(1761,2188)"><circle r="20"/><g id="n296" class="nd" transform="translate(0,11)"><circle r="20"/><text y="4.3">296</text></g><text y="2">163</text></g>
<g id="n164" class="nd" transform="translate(1902,1326)"><circle r="20"/><text y="4.3">164</text></g>
<g id="n165" class="nd" transform="translate(457,2032)"><circle r="20"/><text y="4.3">165</text></g>
<g id="n166" class="nd" transform="translate(1189,2156)"><circle r="20"/><g id="n181" class="nd" transform="translate(26,12)"><circle r="20"/><text y="4.3">181</text></g><text y="4.3">166</text></g>
<g id="n167" class="nd" transform="translate(1435,2344)"><circle r="20"/><text y="4.3">167</text></g>
<g id="n168" class="nd" transform="translate(1127,919)"><circle r="20"/><text y="4.3">168</text></g>
<g id="n169" class="nd" transform="translate(3364,1366)"><circle r="20"/><text y="4.3">169</text></g>
<g id="n170" class="nd" transform="translate(805,2428)"><circle r="20"/><text y="4.3">170</text></g>
<g id="n171" class="nd" transform="translate(1722,1210)"><circle r="20"/><text y="4.3">171</text></g>
<g id="n172" class="nd" transform="translate(2326,1813)"><circle r="20"/><text y="4.3">172</text></g>
<g id="n173" class="nd" transform="translate(1253,1027)"><circle r="20"/><text y="4.3">173</text></g>
<g id="n174" class="nd" transform="translate(2599,1571)"><circle r="20"/><text y="4.3">174</text></g>
<g id="n175" class="nd" transform="translate(1093,1789)"><circle r="20"/><text y="4.3">175</text></g>
<g id="n176" class="nd" transform="translate(3343,541)"><circle r="20"/><text y="4.3">176</text></g>
<g id="n177" class="nd" transform="translate(2819,357)"><circle r="20"/><text y="4.3">177</text></g>
<g id="n178" class="nd" transform="translate(2738,1501)"><circle r="20"/><text y="4.3">178</text></g>
<g id="n179" class="nd" transform="translate(1293,2385)"><circle r="20"/><text y="4.3">179</text></g>
<g id="n180" class="nd" transform="translate(2842,1549)"><circle r="20"/><text y="4.3">180</text></g>
<g id="n182" class="nd" transform="translate(3326,1972)"><circle r="20"/><text y="4.3">182</text></g>
<g id="n183" class="nd" transform="translate(2514,70)"><circle r="20"/><text y="4.3">183</text></g>
<g id="n184" class="nd" transform="translate(2861,320)"><circle r="20"/><text y="4.3">184</text></g>
<g id="n185" class="nd" transform="translate(516,1168)"><circle r="20"/><text y="4.3">185</text></g>
<g id="n186" class="nd" transform="translate(757,627)"><circle r="20"/><text y="4.3">186</text></g>
<g id="n187" class="nd" transform="translate(3242,986)"><circle r="20"/><text y="4.3">187</text></g>
<g id="n188" class="nd" transform="translate(1191,2246)"><circle r="20"/><text y="4.3">188</text></g>
<g id="n189" class="nd" transform="translate(765,1773)"><circle r="20"/><text y="4.3">189</text></g>
<g id="n190" class="nd" transform="translate(2126,1879)"><circle r="20"/><text y="4.3">190</text></g>
<g id="n192" class="nd" transform="translate(1633,2699)"><circle r="20"/><text y="4.3">192</text></g>
<g id="n193" class="nd" transform="translate(2750,2312)"><circle r="20"/><text y="4.3">193</text></g>
<g id="n194" class="nd" transform="translate(1852,393)"><circle r="20"/><text y="4.3">194</text></g>
<g id="n195" class="nd" transform="translate(59,1189)"><circle r="20"/><text y="4.3">195</text></g>
<g id="n196" class="nd" transform="translate(3310,346)"><circle r="20"/><text y="4.3">196</text></g>
<g id="n197" class="nd" transform="translate(1662,1698)"><circle r="20"/><text y="4.3">197</text></g>
<g id="n198" class="nd" transform="translate(2355,1311)"><circle r="20"/><text y="4.3">198</text></g>
<g id="n199" class="nd" transform="translate(125,365)"><circle r="20"/><text y="4.3">199</text></g>
<g id="n200" class="nd" transform="translate(1922,1031)"><circle r="20"/><text y="4.3">200</text></g>
<g id="n202" class="nd" transform="translate(3210,2300)"><circle r="20"/><text y="4.3">202</text></g>
<g id="n203" class="nd" transform="translate(3159,2064)"><circle r="20"/><text y="4.3">203</text></g>
<g id="n204" class="nd" transform="translate(269,2724)"><circle r="20"/><text y="4.3">204</text></g>
<g id="n205" class="nd" transform="translate(2452,936)"><circle r="20"/><text y="4.3">205</text></g>
<g id="n206" class="nd" transform="translate(540,615)"><circle r="20"/><text y="4.3">206</text></g>
<g id="n207" class="nd" transform="translate(1741,2041)"><circle r="20"/><text y="4.3">207</text></g>
<g id="n208" class="nd" transform="translate(1689,2480)"><circle r="20"/><text y="4.3">208</text></g>
<g id="n209" class="nd" transform="translate(497,2566)"><circle r="20"/><text y="4.3">209</text></g>
<g id="n210" class="nd" transform="translate(1298,2662)"><circle r="20"/><text y="4.3">210</text></g>
<g id="n211" class="nd" transform="translate(2274,215)"><circle r="20"/><text y="4.3">211</text></g>
<g id="n212" class="nd" transform="translate(3015,94)"><circle r="20"/><text y="4.3">212</text></g>
<g id="n213" class="nd" transform="translate(2688,616)"><circle r="20"/><text y="4.3">213</text></g>
<g id="n214" class="nd" transform="translate(452,1871)"><circle r="20"/><text y="4.3">214</text></g>
<g id="n215" class="nd" transform="translate(1526,1765)"><circle r="20"/><text y="4.3">215</text></g>
<g id="n216" class="nd" transform="translate(1662,2529)"><circle r="20"/><text y="4.3">216</text></g>
<g id="n217" class="nd" transform="translate(401,2488)"><circle r="20"/><text y="4.3">217</text></g>
<g id="n218" class="nd" transform="translate(365,2041)"><circle r="20"/><text y="4.3">218</text></g>
<g id="n219" class="nd" transform="translate(995,1228)"><circle r="20"/><text y="4.3">219</text></g>
<g id="n220" class="nd" transform="translate(1559,975)"><circle r="20"/><text y="4.3">220</text></g>
<g id="n221" class="nd" transform="translate(1351,191)"><circle r="20"/><text y="4.3">221</text></g>
<g id="n222" class="nd" transform="translate(677,2149)"><circle r="20"/><text y="4.3">222</text></g>
<g id="n223" class="nd" transform="translate(1926,1537)"><circle r="20"/><text y="4.3">223</text></g>
<g id="n224" class="nd" transform="translate(1729,479)"><circle r="20"/><text y="4.3">224</text></g>
<g id="n225" class="nd" transform="translate(2929,2706)"><circle r="20"/><text y="4.3">225</text></g>
<g id="n226" class="nd" transform="translate(938,132)"><circle r="20"/><text y="4.3">226</text></g>
<g id="n227" class="nd" transform="translate(308,1427)"><circle r="20"/><text y="4.3">227</text></g>
<g id="n228" class="nd" transform="translate(2863,428)"><circle r="20"/><text y="4.3">228</text></g>
<g id="n229" class="nd" transform="translate(579,1709)"><circle r="20"/><text y="4.3">229</text></g>
<g id="n230" class="nd" transform="translate(238,295)"><circle r="20"/><text y="4.3">230</text></g>
<g id="n231" class="nd" transform="translate(3289,1108)"><circle r="20"/><text y="4.3">231</text></g>
<g id="n232" class="nd" transform="translate(3299,206)"><circle r="20"/><text y="4.3">232</text></g>
<g id="n233" class="nd" transform="translate(662,2288)"><circle r="20"/><text y="4.3">233</text></g>
<g id="n234" class="nd" transform="translate(981,226)"><circle r="20"/><text y="4.3">234</text></g>
<g id="n235" class="nd" transform="translate(299,941)"><circle r="20"/><text y="4.3">235</text></g>
<g id="n236" class="nd" transform="translate(153,426)"><circle r="20"/><text y="4.3">236</text></g>
<g id="n237" class="nd" transform="translate(1225,2064)"><circle r="20"/><text y="4.3">237</text></g>
<g id="n238" class="nd" transform="translate(476,1399)"><circle r="20"/><text y="4.3">238</text></g>
<g id="n239" class="nd" transform="translate(1168,2309)"><circle r="20"/><text y="4.3">239</text></g>
<g id="n240" class="nd" transform="translate(2432,1338)"><circle r="20"/><text y="4.3">240</text></g>
<g id="n241" class="nd" transform="translate(43,1793)"><circle r="20"/><text y="4.3">241</text></g>
<g id="n242" class="nd" transform="translate(1755,344)"><circle r="20"/><text y="4.3">242</text></g>
<g id="n243" class="nd" transform="translate(1789,2528)"><circle r="20"/><text y="4.3">243</text></g>
<g id="n244" class="nd" transform="translate(872,2213)"><circle r="20"/><text y="4.3">244</text></g>
<g id="n245" class="nd" transform="translate(2541,1201)"><circle r="20"/><text y="4.3">245</text></g>
<g id="n246" class="nd" transform="translate(2352,1243)"><circle r="20"/><text y="4.3">246</text></g>
<g id="n247" class="nd" transform="translate(498,2091)"><circle r="20"/><text y="4.3">247</text></g>
<g id="n248" class="nd" transform="translate(1975,1130)"><circle r="20"/><text y="4.3">248</text></g>
<g id="n249" class="nd" transform="translate(2104,2000)"><circle r="20"/><g id="n286" class="nd" transform="translate(11,-16)"><circle r="20"/><text y="4.3">286</text></g><text y="6">249</text></g>
<g id="n250" class="nd" transform="translate(2624,742)"><circle r="20"/><text y="4.3">250</text></g>
<g id="n251" class="nd" transform="translate(2059,1325)"><circle r="20"/><text y="4.3">251</text></g>
<g id="n252" class="nd" transform="translate(46,345)"><circle r="20"/><text y="4.3">252</text></g>
<g id="n253" class="nd" transform="translate(2556,1998)"><circle r="20"/><text y="4.3">253</text></g>
<g id="n254" class="nd" transform="translate(2093,1491)"><circle r="20"/><text y="4.3">254</text></g>
<g id="n255" class="nd" transform="translate(181,116)"><circle r="20"/><text y="4.3">255</text></g>
<g id="n256" class="nd" transform="translate(2129,2459)"><circle r="20"/><text y="4.3">256</text></g>
<g id="n257" class="nd" transform="translate(1573,1640)"><circle r="20"/><text y="4.3">257</text></g>
<g id="n259" class="nd" transform="translate(515,1944)"><circle r="20"/><text y="4.3">259</text></g>
<g id="n260" class="nd" transform="translate(2732,2382)"><circle r="20"/><text y="4.3">260</text></g>
<g id="n261" class="nd" transform="translate(380,336)"><circle r="20"/><text y="4.3">261</text></g>
<g id="n262" class="nd" transform="translate(261,2489)"><circle r="20"/><text y="4.3">262</text></g>
<g id="n263" class="nd" transform="translate(652,1170)"><circle r="20"/><text y="4.3">263</text></g>
<g id="n264" class="nd" transform="translate(1565,1076)"><circle r="20"/><text y="4.3">264</text></g>
<g id="n265" class="nd" transform="translate(3354,2396)"><circle r="20"/><text y="4.3">265</text></g>
<g id="n266" class="nd" transform="translate(2849,1187)"><circle r="20"/><text y="4.3">266</text></g>
<g id="n267" class="nd" transform="translate(417,1648)"><circle r="20"/><text y="4.3">267</text></g>
<g id="n268" class="nd" transform="translate(1504,821)"><circle r="20"/><text y="4.3">268</text></g>
<g id="n269" class="nd" transform="translate(443,2605)"><circle r="20"/><text y="4.3">269</text></g>
<g id="n270" class="nd" transform="translate(1227,353)"><circle r="20"/><text y="4.3">270</text></g>
<g id="n271" class="nd" transform="translate(98,1703)"><circle r="20"/><text y="4.3">271</text></g>
<g id="n272" class="nd" transform="translate(1673,2438)"><circle r="20"/><text y="4.3">272</text></g>
<g id="n273" class="nd" transform="translate(714,1910)"><circle r="20"/><text y="4.3">273</text></g>
<g id="n274" class="nd" transform="translate(1260,407)"><circle r="20"/><text y="4.3">274</text></g>
<g id="n275" class="nd" transform="translate(2476,1971)"><circle r="20"/><text y="4.3">275</text></g>
<g id="n276" class="nd" transform="translate(1392,2373)"><circle r="20"/><text y="4.3">276</text></g>
<g id="n277" class="nd" transform="translate(2372,1788)"><circle r="20"/><text y="4.3">277</text></g>
<g id="n278" class="nd" transform="translate(2730,1664)"><circle r="20"/><text y="4.3">278</text></g>
<g id="n279" class="nd" transform="translate(1134,2488)"><circle r="20"/><text y="4.3">279</text></g>
<g id="n280" class="nd" transform="translate(1981,1025)"><circle r="20"/><text y="4.3">280</text></g>
<g id="n281" class="nd" transform="translate(3431,531)"><circle r="20"/><text y="4.3">281</text></g>
<g id="n282" class="nd" transform="translate(3153,1402)"><circle r="20"/><text y="4.3">282</text></g>
<g id="n283" class="nd" transform="translate(2759,2228)"><circle r="20"/><text y="4.3">283</text></g>
<g id="n284" class="nd" transform="translate(3356,493)"><circle r="20"/><text y="4.3">284</text></g>
<g id="n287" class="nd" transform="translate(1361,2192)"><circle r="20"/><text y="4.3">287</text></g>
<g id="n288" class="nd" transform="translate(667,2089)"><circle r="20"/><text y="4.3">288</text></g>
<g id="n289" class="nd" transform="translate(83,361)"><circle r="20"/><text y="4.3">289</text></g>
<g id="n291" class="nd" transform="translate(396,1829)"><circle r="20"/><text y="4.3">291</text></g>
<g id="n292" class="nd" transform="translate(2377,308)"><circle r="20"/><text y="4.3">292</text></g>
<g id="n293" class="nd" transform="translate(3382,868)"><circle r="20"/><text y="4.3">293</text></g>
<g id="n294" class="nd" transform="translate(881,2389)"><circle r="20"/><text y="4.3">294</text></g>
<g id="n295" class="nd" transform="translate(864,1670)"><circle r="20"/><text y="4.3">295</text></g>
<g id="n297" class="nd" transform="translate(854,1220)"><circle r="20"/><text y="4.3">297</text></g>
<g id="n298" class="nd" transform="translate(2988,193)"><circle r="20"/><text y="4.3">298</text></g>
<g id="n299" class="nd" transform="translate(2224,1457)"><circle r="20"/><text y="4.3">299</text></g>
<g id="n31" class="cx gx" transform="translate(555,285)"><use class="xo" href="#xs"/><use class="xi" href="#xs"/><text y="4.3">31</text></g>
<g id="n191" class="cx px" transform="translate(3336,2150)"><use class="xo" href="#xs"/><use class="xi" href="#xs"/><text y="4.3">191</text></g>
<g id="n285" class="nd" transform="translate(617,1800)"><circle r="20"/><g id="n107" class="cx gx" transform="translate(16,24)"><use class="xo" href="#xs"/><use class="xi" href="#xs"/><text y="4.3">107</text></g><text y="4.3">285</text></g>
<g id="n91" class="nd" transform="translate(2429,1274)"><circle r="20"/><g id="n151" class="cx px" transform="translate(-25,-4)"><use class="xo" href="#xs"/><use class="xi" href="#xs"/><text y="4.3">151</text></g><text y="4.3">91</text></g>
<g id="n290" class="nd" transform="translate(3133,566)"><circle r="20"/><g id="n201" class="cx px" transform="translate(8,12)"><use class="xo" href="#xs"/><use class="xi" href="#xs"/><text y="4.3">201</text></g><text y="4.3">290</text></g>
</g>
<text class="big" x="1770" y="1532">5.97</text>
</g>
</svg>
